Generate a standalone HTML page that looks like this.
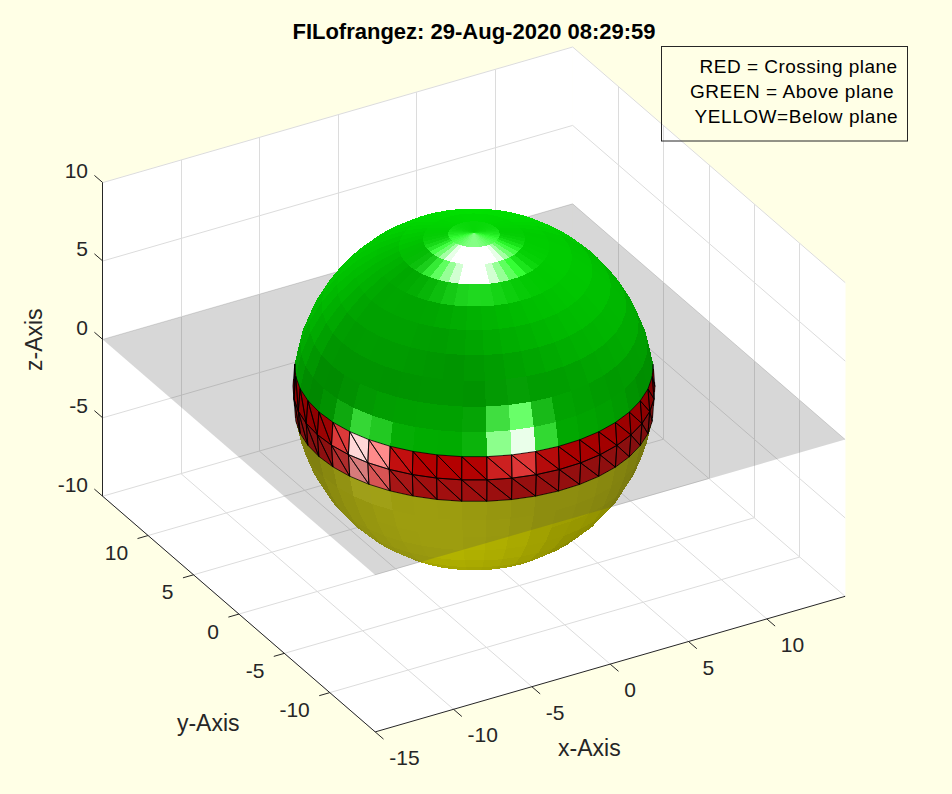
<!DOCTYPE html>
<html><head><meta charset="utf-8"><style>
html,body{margin:0;padding:0;background:rgb(255,255,230);}
svg{display:block;}
text{font-family:"Liberation Sans", sans-serif;}
</style></head><body>
<svg width="952" height="794" viewBox="0 0 952 794">
<rect x="0" y="0" width="952" height="794" fill="rgb(255,255,230)"/>
<polygon points="375.21,731.90 845.15,596.32 572.59,360.65 102.65,496.24" fill="#ffffff" stroke="#ffffff" stroke-width="0.5"/>
<polygon points="102.65,496.24 572.59,360.65 572.69,47.01 102.75,182.60" fill="#ffffff" stroke="#ffffff" stroke-width="0.5"/>
<polygon points="845.15,596.32 572.59,360.65 572.69,47.01 845.25,282.68" fill="#ffffff" stroke="#ffffff" stroke-width="0.5"/>
<line x1="375.21" y1="731.90" x2="102.65" y2="496.24" stroke="#dcdcdc" stroke-width="1.0" />
<line x1="102.50" y1="496.24" x2="102.50" y2="182.60" stroke="#dcdcdc" stroke-width="1.0" />
<line x1="453.54" y1="709.31" x2="180.98" y2="473.64" stroke="#dcdcdc" stroke-width="1.0" />
<line x1="181.50" y1="473.64" x2="181.50" y2="160.00" stroke="#dcdcdc" stroke-width="1.0" />
<line x1="531.86" y1="686.71" x2="259.30" y2="451.05" stroke="#dcdcdc" stroke-width="1.0" />
<line x1="259.50" y1="451.05" x2="259.50" y2="137.41" stroke="#dcdcdc" stroke-width="1.0" />
<line x1="610.18" y1="664.11" x2="337.62" y2="428.45" stroke="#dcdcdc" stroke-width="1.0" />
<line x1="338.50" y1="428.45" x2="338.50" y2="114.81" stroke="#dcdcdc" stroke-width="1.0" />
<line x1="688.50" y1="641.51" x2="415.94" y2="405.85" stroke="#dcdcdc" stroke-width="1.0" />
<line x1="416.50" y1="405.85" x2="416.50" y2="92.21" stroke="#dcdcdc" stroke-width="1.0" />
<line x1="766.82" y1="618.92" x2="494.26" y2="383.25" stroke="#dcdcdc" stroke-width="1.0" />
<line x1="495.50" y1="383.25" x2="495.50" y2="69.61" stroke="#dcdcdc" stroke-width="1.0" />
<line x1="329.79" y1="692.63" x2="799.72" y2="557.04" stroke="#dcdcdc" stroke-width="1.0" />
<line x1="799.50" y1="557.04" x2="799.50" y2="243.40" stroke="#dcdcdc" stroke-width="1.0" />
<line x1="284.36" y1="653.35" x2="754.29" y2="517.76" stroke="#dcdcdc" stroke-width="1.0" />
<line x1="754.50" y1="517.76" x2="754.50" y2="204.12" stroke="#dcdcdc" stroke-width="1.0" />
<line x1="238.93" y1="614.07" x2="708.87" y2="478.49" stroke="#dcdcdc" stroke-width="1.0" />
<line x1="709.50" y1="478.49" x2="709.50" y2="164.85" stroke="#dcdcdc" stroke-width="1.0" />
<line x1="193.51" y1="574.80" x2="663.44" y2="439.21" stroke="#dcdcdc" stroke-width="1.0" />
<line x1="663.50" y1="439.21" x2="663.50" y2="125.57" stroke="#dcdcdc" stroke-width="1.0" />
<line x1="148.08" y1="535.52" x2="618.01" y2="399.93" stroke="#dcdcdc" stroke-width="1.0" />
<line x1="618.50" y1="399.93" x2="618.50" y2="86.29" stroke="#dcdcdc" stroke-width="1.0" />
<line x1="102.65" y1="496.24" x2="572.59" y2="360.65" stroke="#dcdcdc" stroke-width="1.0" />
<line x1="845.15" y1="596.32" x2="572.59" y2="360.65" stroke="#dcdcdc" stroke-width="1.0" />
<line x1="102.68" y1="417.83" x2="572.61" y2="282.25" stroke="#dcdcdc" stroke-width="1.0" />
<line x1="845.17" y1="517.91" x2="572.61" y2="282.25" stroke="#dcdcdc" stroke-width="1.0" />
<line x1="102.70" y1="339.42" x2="572.64" y2="203.83" stroke="#dcdcdc" stroke-width="1.0" />
<line x1="845.20" y1="439.50" x2="572.64" y2="203.83" stroke="#dcdcdc" stroke-width="1.0" />
<line x1="102.73" y1="261.01" x2="572.66" y2="125.42" stroke="#dcdcdc" stroke-width="1.0" />
<line x1="845.22" y1="361.09" x2="572.66" y2="125.42" stroke="#dcdcdc" stroke-width="1.0" />
<line x1="102.75" y1="182.60" x2="572.69" y2="47.01" stroke="#dcdcdc" stroke-width="1.0" />
<line x1="845.25" y1="282.68" x2="572.69" y2="47.01" stroke="#dcdcdc" stroke-width="1.0" />
<line x1="102.50" y1="496.24" x2="102.50" y2="182.60" stroke="#262626" stroke-width="1.0" />
<line x1="375.21" y1="731.90" x2="102.65" y2="496.24" stroke="#262626" stroke-width="1.0" />
<line x1="375.21" y1="731.90" x2="845.15" y2="596.32" stroke="#262626" stroke-width="1.0" />
<line x1="102.65" y1="496.24" x2="94.33" y2="489.05" stroke="#262626" stroke-width="1.0" />
<line x1="102.68" y1="417.83" x2="94.36" y2="410.64" stroke="#262626" stroke-width="1.0" />
<line x1="102.70" y1="339.42" x2="94.38" y2="332.23" stroke="#262626" stroke-width="1.0" />
<line x1="102.73" y1="261.01" x2="94.41" y2="253.82" stroke="#262626" stroke-width="1.0" />
<line x1="102.75" y1="182.60" x2="94.43" y2="175.41" stroke="#262626" stroke-width="1.0" />
<line x1="329.79" y1="692.63" x2="319.22" y2="695.68" stroke="#262626" stroke-width="1.0" />
<line x1="284.36" y1="653.35" x2="273.79" y2="656.40" stroke="#262626" stroke-width="1.0" />
<line x1="238.93" y1="614.07" x2="228.37" y2="617.12" stroke="#262626" stroke-width="1.0" />
<line x1="193.51" y1="574.80" x2="182.94" y2="577.84" stroke="#262626" stroke-width="1.0" />
<line x1="148.08" y1="535.52" x2="137.51" y2="538.57" stroke="#262626" stroke-width="1.0" />
<line x1="375.21" y1="731.90" x2="383.53" y2="739.10" stroke="#262626" stroke-width="1.0" />
<line x1="453.54" y1="709.31" x2="461.86" y2="716.50" stroke="#262626" stroke-width="1.0" />
<line x1="531.86" y1="686.71" x2="540.18" y2="693.90" stroke="#262626" stroke-width="1.0" />
<line x1="610.18" y1="664.11" x2="618.50" y2="671.31" stroke="#262626" stroke-width="1.0" />
<line x1="688.50" y1="641.51" x2="696.82" y2="648.71" stroke="#262626" stroke-width="1.0" />
<line x1="766.82" y1="618.92" x2="775.14" y2="626.11" stroke="#262626" stroke-width="1.0" />
<polygon points="416.52,560.98 428.12,564.61 418.45,560.34 404.40,555.94" fill="rgb(162,162,0)" shape-rendering="crispEdges"/>
<polygon points="428.12,564.61 440.61,567.40 433.57,563.72 418.45,560.34" fill="rgb(165,165,0)" shape-rendering="crispEdges"/>
<polygon points="440.61,567.40 453.74,569.30 449.49,566.01 433.57,563.72" fill="rgb(165,165,0)" shape-rendering="crispEdges"/>
<polygon points="453.74,569.30 467.27,570.26 465.87,567.17 449.49,566.01" fill="rgb(165,165,0)" shape-rendering="crispEdges"/>
<polygon points="467.27,570.26 480.93,570.27 482.42,567.19 465.87,567.17" fill="rgb(163,163,0)" shape-rendering="crispEdges"/>
<polygon points="480.93,570.27 494.45,569.33 498.80,566.05 482.42,567.19" fill="rgb(161,161,0)" shape-rendering="crispEdges"/>
<polygon points="494.45,569.33 507.57,567.45 514.69,563.78 498.80,566.05" fill="rgb(157,157,0)" shape-rendering="crispEdges"/>
<polygon points="507.57,567.45 520.04,564.68 529.79,560.42 514.69,563.78" fill="rgb(152,152,0)" shape-rendering="crispEdges"/>
<polygon points="520.04,564.68 531.61,561.07 543.80,556.04 529.79,560.42" fill="rgb(146,146,0)" shape-rendering="crispEdges"/>
<polygon points="380.61,544.44 391.71,550.61 379.05,541.35 366.24,534.24" fill="rgb(161,161,0)" shape-rendering="crispEdges"/>
<polygon points="391.71,550.61 404.40,555.94 393.70,547.51 379.05,541.35" fill="rgb(166,166,0)" shape-rendering="crispEdges"/>
<polygon points="404.40,555.94 418.45,560.34 409.91,552.58 393.70,547.51" fill="rgb(169,169,0)" shape-rendering="crispEdges"/>
<polygon points="418.45,560.34 433.57,563.72 427.37,556.48 409.91,552.58" fill="rgb(172,172,0)" shape-rendering="crispEdges"/>
<polygon points="433.57,563.72 449.49,566.01 445.73,559.13 427.37,556.48" fill="rgb(173,173,0)" shape-rendering="crispEdges"/>
<polygon points="449.49,566.01 465.87,567.17 464.64,560.47 445.73,559.13" fill="rgb(172,172,0)" shape-rendering="crispEdges"/>
<polygon points="465.87,567.17 482.42,567.19 483.73,560.49 464.64,560.47" fill="rgb(170,170,0)" shape-rendering="crispEdges"/>
<polygon points="482.42,567.19 498.80,566.05 502.64,559.17 483.73,560.49" fill="rgb(167,167,0)" shape-rendering="crispEdges"/>
<polygon points="498.80,566.05 514.69,563.78 520.98,556.55 502.64,559.17" fill="rgb(163,163,0)" shape-rendering="crispEdges"/>
<polygon points="514.69,563.78 529.79,560.42 538.41,552.68 520.98,556.55" fill="rgb(157,157,0)" shape-rendering="crispEdges"/>
<polygon points="529.79,560.42 543.80,556.04 554.58,547.63 538.41,552.68" fill="rgb(150,150,0)" shape-rendering="crispEdges"/>
<polygon points="543.80,556.04 556.46,550.73 569.18,541.50 554.58,547.63" fill="rgb(142,142,0)" shape-rendering="crispEdges"/>
<polygon points="556.46,550.73 567.50,544.59 581.93,534.41 569.18,541.50" fill="rgb(135,135,0)" shape-rendering="crispEdges"/>
<polygon points="355.53,526.31 366.24,534.24 354.07,521.09 342.15,512.26" fill="rgb(157,157,0)" shape-rendering="crispEdges"/>
<polygon points="366.24,534.24 379.05,541.35 368.32,529.01 354.07,521.09" fill="rgb(164,164,0)" shape-rendering="crispEdges"/>
<polygon points="379.05,541.35 393.70,547.51 384.63,535.86 368.32,529.01" fill="rgb(170,170,0)" shape-rendering="crispEdges"/>
<polygon points="393.70,547.51 409.91,552.58 402.67,541.51 384.63,535.86" fill="rgb(174,174,0)" shape-rendering="crispEdges"/>
<polygon points="409.91,552.58 427.37,556.48 422.10,545.85 402.67,541.51" fill="rgb(177,177,0)" shape-rendering="crispEdges"/>
<polygon points="427.37,556.48 445.73,559.13 442.55,548.79 422.10,545.85" fill="rgb(178,178,0)" shape-rendering="crispEdges"/>
<polygon points="445.73,559.13 464.64,560.47 463.60,550.29 442.55,548.79" fill="rgb(178,178,0)" shape-rendering="crispEdges"/>
<polygon points="464.64,560.47 483.73,560.49 484.85,550.31 463.60,550.29" fill="rgb(175,175,0)" shape-rendering="crispEdges"/>
<polygon points="483.73,560.49 502.64,559.17 505.89,548.84 484.85,550.31" fill="rgb(172,172,0)" shape-rendering="crispEdges"/>
<polygon points="502.64,559.17 520.98,556.55 526.31,545.93 505.89,548.84" fill="rgb(167,167,0)" shape-rendering="crispEdges"/>
<polygon points="520.98,556.55 538.41,552.68 545.71,541.61 526.31,545.93" fill="rgb(160,160,0)" shape-rendering="crispEdges"/>
<polygon points="538.41,552.68 554.58,547.63 563.71,535.99 545.71,541.61" fill="rgb(152,152,0)" shape-rendering="crispEdges"/>
<polygon points="554.58,547.63 569.18,541.50 579.96,529.17 563.71,535.99" fill="rgb(145,145,0)" shape-rendering="crispEdges"/>
<polygon points="569.18,541.50 581.93,534.41 594.15,521.27 579.96,529.17" fill="rgb(142,142,0)" shape-rendering="crispEdges"/>
<polygon points="581.93,534.41 592.57,526.49 606.00,512.46 594.15,521.27" fill="rgb(138,138,0)" shape-rendering="crispEdges"/>
<polygon points="592.57,526.49 600.91,517.91 615.28,502.91 606.00,512.46" fill="rgb(132,132,0)" shape-rendering="crispEdges"/>
<polygon points="347.13,517.72 355.53,526.31 342.15,512.26 332.79,502.70" fill="rgb(149,149,0)" shape-rendering="crispEdges"/>
<polygon points="342.15,512.26 354.07,521.09 344.33,505.26 331.44,495.72" fill="rgb(158,158,0)" shape-rendering="crispEdges"/>
<polygon points="354.07,521.09 368.32,529.01 359.74,513.82 344.33,505.26" fill="rgb(166,166,0)" shape-rendering="crispEdges"/>
<polygon points="368.32,529.01 384.63,535.86 377.37,521.23 359.74,513.82" fill="rgb(172,172,0)" shape-rendering="crispEdges"/>
<polygon points="384.63,535.86 402.67,541.51 396.89,527.34 377.37,521.23" fill="rgb(177,177,0)" shape-rendering="crispEdges"/>
<polygon points="402.67,541.51 422.10,545.85 417.90,532.03 396.89,527.34" fill="rgb(180,180,0)" shape-rendering="crispEdges"/>
<polygon points="422.10,545.85 442.55,548.79 440.00,535.22 417.90,532.03" fill="rgb(181,181,0)" shape-rendering="crispEdges"/>
<polygon points="442.55,548.79 463.60,550.29 462.76,536.83 440.00,535.22" fill="rgb(181,181,0)" shape-rendering="crispEdges"/>
<polygon points="463.60,550.29 484.85,550.31 485.75,536.85 462.76,536.83" fill="rgb(178,178,0)" shape-rendering="crispEdges"/>
<polygon points="484.85,550.31 505.89,548.84 508.50,535.27 485.75,536.85" fill="rgb(174,174,0)" shape-rendering="crispEdges"/>
<polygon points="505.89,548.84 526.31,545.93 530.57,532.11 508.50,535.27" fill="rgb(169,169,0)" shape-rendering="crispEdges"/>
<polygon points="526.31,545.93 545.71,541.61 551.55,527.45 530.57,532.11" fill="rgb(161,161,0)" shape-rendering="crispEdges"/>
<polygon points="545.71,541.61 563.71,535.99 571.01,521.37 551.55,527.45" fill="rgb(153,153,0)" shape-rendering="crispEdges"/>
<polygon points="563.71,535.99 579.96,529.17 588.59,513.99 571.01,521.37" fill="rgb(151,151,0)" shape-rendering="crispEdges"/>
<polygon points="579.96,529.17 594.15,521.27 603.93,505.46 588.59,513.99" fill="rgb(148,148,0)" shape-rendering="crispEdges"/>
<polygon points="594.15,521.27 606.00,512.46 616.74,495.93 603.93,505.46" fill="rgb(143,143,0)" shape-rendering="crispEdges"/>
<polygon points="606.00,512.46 615.28,502.91 626.78,485.60 616.74,495.93" fill="rgb(137,137,0)" shape-rendering="crispEdges"/>
<polygon points="332.79,502.70 342.15,512.26 331.44,495.72 321.33,485.37" fill="rgb(149,149,0)" shape-rendering="crispEdges"/>
<polygon points="331.44,495.72 344.33,505.26 337.23,487.07 323.64,477.01" fill="rgb(158,158,0)" shape-rendering="crispEdges"/>
<polygon points="344.33,505.26 359.74,513.82 353.49,496.10 337.23,487.07" fill="rgb(166,166,0)" shape-rendering="crispEdges"/>
<polygon points="359.74,513.82 377.37,521.23 372.09,503.91 353.49,496.10" fill="rgb(173,173,0)" shape-rendering="crispEdges"/>
<polygon points="377.37,521.23 396.89,527.34 392.67,510.36 372.09,503.91" fill="rgb(178,178,0)" shape-rendering="crispEdges"/>
<polygon points="396.89,527.34 417.90,532.03 414.83,515.31 392.67,510.36" fill="rgb(181,181,0)" shape-rendering="crispEdges"/>
<polygon points="417.90,532.03 440.00,535.22 438.15,518.67 414.83,515.31" fill="rgb(182,182,0)" shape-rendering="crispEdges"/>
<polygon points="440.00,535.22 462.76,536.83 462.16,520.38 438.15,518.67" fill="rgb(182,182,0)" shape-rendering="crispEdges"/>
<polygon points="462.76,536.83 485.75,536.85 486.40,520.40 462.16,520.38" fill="rgb(179,179,0)" shape-rendering="crispEdges"/>
<polygon points="485.75,536.85 508.50,535.27 510.40,518.73 486.40,520.40" fill="rgb(175,175,0)" shape-rendering="crispEdges"/>
<polygon points="508.50,535.27 530.57,532.11 533.69,515.40 510.40,518.73" fill="rgb(169,169,0)" shape-rendering="crispEdges"/>
<polygon points="530.57,532.11 551.55,527.45 555.81,510.48 533.69,515.40" fill="rgb(161,161,0)" shape-rendering="crispEdges"/>
<polygon points="551.55,527.45 571.01,521.37 576.34,504.07 555.81,510.48" fill="rgb(158,158,0)" shape-rendering="crispEdges"/>
<polygon points="571.01,521.37 588.59,513.99 594.88,496.28 576.34,504.07" fill="rgb(156,156,0)" shape-rendering="crispEdges"/>
<polygon points="588.59,513.99 603.93,505.46 611.06,487.28 594.88,496.28" fill="rgb(152,152,0)" shape-rendering="crispEdges"/>
<polygon points="603.93,505.46 616.74,495.93 624.58,477.23 611.06,487.28" fill="rgb(147,147,0)" shape-rendering="crispEdges"/>
<polygon points="616.74,495.93 626.78,485.60 635.16,466.34 624.58,477.23" fill="rgb(140,140,0)" shape-rendering="crispEdges"/>
<polygon points="626.78,485.60 633.84,474.67 642.61,454.81 635.16,466.34" fill="rgb(132,132,0)" shape-rendering="crispEdges"/>
<polygon points="314.18,474.43 321.33,485.37 312.97,466.09 305.43,454.55" fill="rgb(147,147,0)" shape-rendering="crispEdges"/>
<polygon points="321.33,485.37 331.44,495.72 323.64,477.01 312.97,466.09" fill="rgb(148,148,0)" shape-rendering="crispEdges"/>
<polygon points="323.64,477.01 337.23,487.07 332.92,466.90 318.89,456.51" fill="rgb(155,155,0)" shape-rendering="crispEdges"/>
<polygon points="337.23,487.07 353.49,496.10 349.69,476.21 332.92,466.90" fill="rgb(167,167,4)" shape-rendering="crispEdges"/>
<polygon points="353.49,496.10 372.09,503.91 368.88,484.27 349.69,476.21" fill="rgb(184,184,13)" shape-rendering="crispEdges"/>
<polygon points="372.09,503.91 392.67,510.36 390.11,490.92 368.88,484.27" fill="rgb(185,185,9)" shape-rendering="crispEdges"/>
<polygon points="392.67,510.36 414.83,515.31 412.97,496.03 390.11,490.92" fill="rgb(180,180,1)" shape-rendering="crispEdges"/>
<polygon points="414.83,515.31 438.15,518.67 437.02,499.49 412.97,496.03" fill="rgb(181,181,0)" shape-rendering="crispEdges"/>
<polygon points="438.15,518.67 462.16,520.38 461.79,501.26 437.02,499.49" fill="rgb(180,180,0)" shape-rendering="crispEdges"/>
<polygon points="462.16,520.38 486.40,520.40 486.80,501.27 461.79,501.26" fill="rgb(177,177,0)" shape-rendering="crispEdges"/>
<polygon points="486.40,520.40 510.40,518.73 511.56,499.55 486.80,501.27" fill="rgb(173,173,0)" shape-rendering="crispEdges"/>
<polygon points="510.40,518.73 533.69,515.40 535.58,496.12 511.56,499.55" fill="rgb(167,167,0)" shape-rendering="crispEdges"/>
<polygon points="533.69,515.40 555.81,510.48 558.41,491.05 535.58,496.12" fill="rgb(161,161,0)" shape-rendering="crispEdges"/>
<polygon points="555.81,510.48 576.34,504.07 579.59,484.43 558.41,491.05" fill="rgb(161,161,0)" shape-rendering="crispEdges"/>
<polygon points="576.34,504.07 594.88,496.28 598.71,476.40 579.59,484.43" fill="rgb(159,159,0)" shape-rendering="crispEdges"/>
<polygon points="594.88,496.28 611.06,487.28 615.41,467.11 598.71,476.40" fill="rgb(155,155,0)" shape-rendering="crispEdges"/>
<polygon points="611.06,487.28 624.58,477.23 629.35,456.75 615.41,467.11" fill="rgb(149,149,0)" shape-rendering="crispEdges"/>
<polygon points="624.58,477.23 635.16,466.34 640.27,445.51 629.35,456.75" fill="rgb(142,142,0)" shape-rendering="crispEdges"/>
<polygon points="635.16,466.34 642.61,454.81 647.95,433.61 640.27,445.51" fill="rgb(134,134,0)" shape-rendering="crispEdges"/>
<polygon points="642.61,454.81 646.77,442.86 652.24,421.29 647.95,433.61" fill="rgb(125,125,0)" shape-rendering="crispEdges"/>
<polygon points="301.17,442.60 305.43,454.55 300.11,433.35 295.72,421.02" fill="rgb(145,145,0)" shape-rendering="crispEdges"/>
<polygon points="305.43,454.55 312.97,466.09 307.89,445.26 300.11,433.35" fill="rgb(145,145,0)" shape-rendering="crispEdges"/>
<polygon points="312.97,466.09 323.64,477.01 318.89,456.51 307.89,445.26" fill="rgb(145,145,0)" shape-rendering="crispEdges"/>
<polygon points="332.92,466.90 331.47,445.15 317.31,434.65" fill="rgb(160,2,2)" shape-rendering="crispEdges"/>
<polygon points="318.89,456.51 332.92,466.90 317.31,434.65" fill="rgb(160,2,2)" shape-rendering="crispEdges"/>
<polygon points="349.69,476.21 348.42,454.56 331.47,445.15" fill="rgb(205,37,37)" shape-rendering="crispEdges"/>
<polygon points="332.92,466.90 349.69,476.21 331.47,445.15" fill="rgb(205,37,37)" shape-rendering="crispEdges"/>
<polygon points="368.88,484.27 367.80,462.70 348.42,454.56" fill="rgb(255,138,138)" shape-rendering="crispEdges"/>
<polygon points="349.69,476.21 368.88,484.27 348.42,454.56" fill="rgb(255,138,138)" shape-rendering="crispEdges"/>
<polygon points="390.11,490.92 389.25,469.42 367.80,462.70" fill="rgb(255,89,89)" shape-rendering="crispEdges"/>
<polygon points="368.88,484.27 390.11,490.92 367.80,462.70" fill="rgb(255,89,89)" shape-rendering="crispEdges"/>
<polygon points="412.97,496.03 412.35,474.58 389.25,469.42" fill="rgb(194,10,10)" shape-rendering="crispEdges"/>
<polygon points="390.11,490.92 412.97,496.03 389.25,469.42" fill="rgb(194,10,10)" shape-rendering="crispEdges"/>
<polygon points="437.02,499.49 436.65,478.08 412.35,474.58" fill="rgb(186,0,0)" shape-rendering="crispEdges"/>
<polygon points="412.97,496.03 437.02,499.49 412.35,474.58" fill="rgb(186,0,0)" shape-rendering="crispEdges"/>
<polygon points="461.79,501.26 461.68,479.86 436.65,478.08" fill="rgb(186,0,0)" shape-rendering="crispEdges"/>
<polygon points="437.02,499.49 461.79,501.26 436.65,478.08" fill="rgb(186,0,0)" shape-rendering="crispEdges"/>
<polygon points="486.80,501.27 486.94,479.88 461.68,479.86" fill="rgb(183,0,0)" shape-rendering="crispEdges"/>
<polygon points="461.79,501.26 486.80,501.27 461.68,479.86" fill="rgb(183,0,0)" shape-rendering="crispEdges"/>
<polygon points="511.56,499.55 511.95,478.14 486.94,479.88" fill="rgb(179,1,1)" shape-rendering="crispEdges"/>
<polygon points="486.80,501.27 511.56,499.55 486.94,479.88" fill="rgb(179,1,1)" shape-rendering="crispEdges"/>
<polygon points="535.58,496.12 536.22,474.67 511.95,478.14" fill="rgb(172,1,1)" shape-rendering="crispEdges"/>
<polygon points="511.56,499.55 535.58,496.12 511.95,478.14" fill="rgb(172,1,1)" shape-rendering="crispEdges"/>
<polygon points="558.41,491.05 559.28,469.54 536.22,474.67" fill="rgb(171,0,0)" shape-rendering="crispEdges"/>
<polygon points="535.58,496.12 558.41,491.05 536.22,474.67" fill="rgb(171,0,0)" shape-rendering="crispEdges"/>
<polygon points="579.59,484.43 580.68,462.86 559.28,469.54" fill="rgb(170,0,0)" shape-rendering="crispEdges"/>
<polygon points="558.41,491.05 579.59,484.43 559.28,469.54" fill="rgb(170,0,0)" shape-rendering="crispEdges"/>
<polygon points="598.71,476.40 600.00,454.75 580.68,462.86" fill="rgb(168,0,0)" shape-rendering="crispEdges"/>
<polygon points="579.59,484.43 598.71,476.40 580.68,462.86" fill="rgb(168,0,0)" shape-rendering="crispEdges"/>
<polygon points="615.41,467.11 616.87,445.36 600.00,454.75" fill="rgb(164,0,0)" shape-rendering="crispEdges"/>
<polygon points="598.71,476.40 615.41,467.11 600.00,454.75" fill="rgb(164,0,0)" shape-rendering="crispEdges"/>
<polygon points="629.35,456.75 630.95,434.89 616.87,445.36" fill="rgb(158,0,0)" shape-rendering="crispEdges"/>
<polygon points="615.41,467.11 629.35,456.75 616.87,445.36" fill="rgb(158,0,0)" shape-rendering="crispEdges"/>
<polygon points="640.27,445.51 641.98,423.54 630.95,434.89" fill="rgb(151,0,0)" shape-rendering="crispEdges"/>
<polygon points="629.35,456.75 640.27,445.51 630.95,434.89" fill="rgb(151,0,0)" shape-rendering="crispEdges"/>
<polygon points="647.95,433.61 649.74,411.52 641.98,423.54" fill="rgb(142,0,0)" shape-rendering="crispEdges"/>
<polygon points="640.27,445.51 647.95,433.61 641.98,423.54" fill="rgb(142,0,0)" shape-rendering="crispEdges"/>
<polygon points="652.24,421.29 654.08,399.07 649.74,411.52" fill="rgb(131,0,0)" shape-rendering="crispEdges"/>
<polygon points="647.95,433.61 652.24,421.29 649.74,411.52" fill="rgb(131,0,0)" shape-rendering="crispEdges"/>
<polygon points="300.11,433.35 298.33,411.25 293.90,398.80" fill="rgb(149,0,0)" shape-rendering="crispEdges"/>
<polygon points="295.72,421.02 300.11,433.35 293.90,398.80" fill="rgb(149,0,0)" shape-rendering="crispEdges"/>
<polygon points="307.89,445.26 306.19,423.28 298.33,411.25" fill="rgb(149,0,0)" shape-rendering="crispEdges"/>
<polygon points="300.11,433.35 307.89,445.26 298.33,411.25" fill="rgb(149,0,0)" shape-rendering="crispEdges"/>
<polygon points="318.89,456.51 317.31,434.65 306.19,423.28" fill="rgb(148,0,0)" shape-rendering="crispEdges"/>
<polygon points="307.89,445.26 318.89,456.51 306.19,423.28" fill="rgb(148,0,0)" shape-rendering="crispEdges"/>
<polygon points="375.26,575.09 845.20,439.50 572.64,203.83 102.70,339.42" fill="rgb(70,70,70)" fill-opacity="0.216"/>
<polygon points="331.47,445.15 332.93,422.26 318.91,411.88" fill="rgb(155,3,3)" shape-rendering="crispEdges"/>
<polygon points="317.31,434.65 331.47,445.15 318.91,411.88" fill="rgb(155,3,3)" shape-rendering="crispEdges"/>
<polygon points="348.42,454.56 349.70,431.58 332.93,422.26" fill="rgb(220,58,58)" shape-rendering="crispEdges"/>
<polygon points="331.47,445.15 348.42,454.56 332.93,422.26" fill="rgb(220,58,58)" shape-rendering="crispEdges"/>
<polygon points="367.80,462.70 368.89,439.64 349.70,431.58" fill="rgb(255,216,216)" shape-rendering="crispEdges"/>
<polygon points="348.42,454.56 367.80,462.70 349.70,431.58" fill="rgb(255,216,216)" shape-rendering="crispEdges"/>
<polygon points="389.25,469.42 390.12,446.28 368.89,439.64" fill="rgb(255,139,139)" shape-rendering="crispEdges"/>
<polygon points="367.80,462.70 389.25,469.42 368.89,439.64" fill="rgb(255,139,139)" shape-rendering="crispEdges"/>
<polygon points="412.35,474.58 412.99,451.39 390.12,446.28" fill="rgb(194,15,15)" shape-rendering="crispEdges"/>
<polygon points="389.25,469.42 412.35,474.58 390.12,446.28" fill="rgb(194,15,15)" shape-rendering="crispEdges"/>
<polygon points="436.65,478.08 437.04,454.86 412.99,451.39" fill="rgb(180,0,0)" shape-rendering="crispEdges"/>
<polygon points="412.35,474.58 436.65,478.08 412.99,451.39" fill="rgb(180,0,0)" shape-rendering="crispEdges"/>
<polygon points="461.68,479.86 461.81,456.62 437.04,454.86" fill="rgb(180,0,0)" shape-rendering="crispEdges"/>
<polygon points="436.65,478.08 461.68,479.86 437.04,454.86" fill="rgb(180,0,0)" shape-rendering="crispEdges"/>
<polygon points="486.94,479.88 486.81,456.64 461.81,456.62" fill="rgb(179,2,2)" shape-rendering="crispEdges"/>
<polygon points="461.68,479.86 486.94,479.88 461.81,456.62" fill="rgb(179,2,2)" shape-rendering="crispEdges"/>
<polygon points="511.95,478.14 511.57,454.92 486.81,456.64" fill="rgb(204,32,32)" shape-rendering="crispEdges"/>
<polygon points="486.94,479.88 511.95,478.14 486.81,456.64" fill="rgb(204,32,32)" shape-rendering="crispEdges"/>
<polygon points="536.22,474.67 535.60,451.48 511.57,454.92" fill="rgb(222,54,54)" shape-rendering="crispEdges"/>
<polygon points="511.95,478.14 536.22,474.67 511.57,454.92" fill="rgb(222,54,54)" shape-rendering="crispEdges"/>
<polygon points="559.28,469.54 558.42,446.41 535.60,451.48" fill="rgb(181,11,11)" shape-rendering="crispEdges"/>
<polygon points="536.22,474.67 559.28,469.54 535.60,451.48" fill="rgb(181,11,11)" shape-rendering="crispEdges"/>
<polygon points="580.68,462.86 579.60,439.80 558.42,446.41" fill="rgb(170,0,0)" shape-rendering="crispEdges"/>
<polygon points="559.28,469.54 580.68,462.86 558.42,446.41" fill="rgb(170,0,0)" shape-rendering="crispEdges"/>
<polygon points="600.00,454.75 598.72,431.77 579.60,439.80" fill="rgb(167,0,0)" shape-rendering="crispEdges"/>
<polygon points="580.68,462.86 600.00,454.75 579.60,439.80" fill="rgb(167,0,0)" shape-rendering="crispEdges"/>
<polygon points="616.87,445.36 615.42,422.48 598.72,431.77" fill="rgb(163,0,0)" shape-rendering="crispEdges"/>
<polygon points="600.00,454.75 616.87,445.36 598.72,431.77" fill="rgb(163,0,0)" shape-rendering="crispEdges"/>
<polygon points="630.95,434.89 629.36,412.11 615.42,422.48" fill="rgb(157,0,0)" shape-rendering="crispEdges"/>
<polygon points="616.87,445.36 630.95,434.89 615.42,422.48" fill="rgb(157,0,0)" shape-rendering="crispEdges"/>
<polygon points="641.98,423.54 640.28,400.87 629.36,412.11" fill="rgb(150,0,0)" shape-rendering="crispEdges"/>
<polygon points="630.95,434.89 641.98,423.54 629.36,412.11" fill="rgb(150,0,0)" shape-rendering="crispEdges"/>
<polygon points="649.74,411.52 647.96,388.98 640.28,400.87" fill="rgb(141,0,0)" shape-rendering="crispEdges"/>
<polygon points="641.98,423.54 649.74,411.52 640.28,400.87" fill="rgb(141,0,0)" shape-rendering="crispEdges"/>
<polygon points="654.08,399.07 652.25,376.65 647.96,388.98" fill="rgb(130,0,0)" shape-rendering="crispEdges"/>
<polygon points="649.74,411.52 654.08,399.07 647.96,388.98" fill="rgb(130,0,0)" shape-rendering="crispEdges"/>
<polygon points="654.91,386.43 653.08,364.15 652.25,376.65" fill="rgb(126,0,0)" shape-rendering="crispEdges"/>
<polygon points="654.08,399.07 654.91,386.43 652.25,376.65" fill="rgb(126,0,0)" shape-rendering="crispEdges"/>
<polygon points="293.90,398.80 295.74,376.38 294.81,363.88" fill="rgb(148,0,0)" shape-rendering="crispEdges"/>
<polygon points="292.96,386.16 293.90,398.80 294.81,363.88" fill="rgb(148,0,0)" shape-rendering="crispEdges"/>
<polygon points="298.33,411.25 300.13,388.71 295.74,376.38" fill="rgb(144,0,0)" shape-rendering="crispEdges"/>
<polygon points="293.90,398.80 298.33,411.25 295.74,376.38" fill="rgb(144,0,0)" shape-rendering="crispEdges"/>
<polygon points="306.19,423.28 307.90,400.62 300.13,388.71" fill="rgb(144,0,0)" shape-rendering="crispEdges"/>
<polygon points="298.33,411.25 306.19,423.28 300.13,388.71" fill="rgb(144,0,0)" shape-rendering="crispEdges"/>
<polygon points="317.31,434.65 318.91,411.88 307.90,400.62" fill="rgb(143,0,0)" shape-rendering="crispEdges"/>
<polygon points="306.19,423.28 317.31,434.65 307.90,400.62" fill="rgb(143,0,0)" shape-rendering="crispEdges"/>
<polygon points="318.91,411.88 332.93,422.26 337.26,398.71 323.67,388.64" fill="rgb(1,146,1)" shape-rendering="crispEdges"/>
<polygon points="332.93,422.26 349.70,431.58 353.52,407.74 337.26,398.71" fill="rgb(14,168,14)" shape-rendering="crispEdges"/>
<polygon points="349.70,431.58 368.89,439.64 372.12,415.55 353.52,407.74" fill="rgb(53,215,53)" shape-rendering="crispEdges"/>
<polygon points="368.89,439.64 390.12,446.28 392.70,422.00 372.12,415.55" fill="rgb(34,201,34)" shape-rendering="crispEdges"/>
<polygon points="390.12,446.28 412.99,451.39 414.86,426.95 392.70,422.00" fill="rgb(4,174,4)" shape-rendering="crispEdges"/>
<polygon points="412.99,451.39 437.04,454.86 438.18,430.31 414.86,426.95" fill="rgb(0,172,0)" shape-rendering="crispEdges"/>
<polygon points="437.04,454.86 461.81,456.62 462.19,432.01 438.18,430.31" fill="rgb(0,171,0)" shape-rendering="crispEdges"/>
<polygon points="461.81,456.62 486.81,456.64 486.43,432.03 462.19,432.01" fill="rgb(11,179,11)" shape-rendering="crispEdges"/>
<polygon points="486.81,456.64 511.57,454.92 510.43,430.36 486.43,432.03" fill="rgb(140,255,140)" shape-rendering="crispEdges"/>
<polygon points="511.57,454.92 535.60,451.48 533.71,427.04 510.43,430.36" fill="rgb(234,255,234)" shape-rendering="crispEdges"/>
<polygon points="535.60,451.48 558.42,446.41 555.84,422.12 533.71,427.04" fill="rgb(50,217,50)" shape-rendering="crispEdges"/>
<polygon points="558.42,446.41 579.60,439.80 576.37,415.71 555.84,422.12" fill="rgb(1,168,1)" shape-rendering="crispEdges"/>
<polygon points="579.60,439.80 598.72,431.77 594.91,407.92 576.37,415.71" fill="rgb(0,164,0)" shape-rendering="crispEdges"/>
<polygon points="598.72,431.77 615.42,422.48 611.09,398.92 594.91,407.92" fill="rgb(0,160,0)" shape-rendering="crispEdges"/>
<polygon points="615.42,422.48 629.36,412.11 624.61,388.87 611.09,398.92" fill="rgb(0,155,0)" shape-rendering="crispEdges"/>
<polygon points="629.36,412.11 640.28,400.87 635.19,377.98 624.61,388.87" fill="rgb(0,147,0)" shape-rendering="crispEdges"/>
<polygon points="640.28,400.87 647.96,388.98 642.64,366.44 635.19,377.98" fill="rgb(0,142,0)" shape-rendering="crispEdges"/>
<polygon points="647.96,388.98 652.25,376.65 646.80,354.50 642.64,366.44" fill="rgb(0,143,0)" shape-rendering="crispEdges"/>
<polygon points="652.25,376.65 653.08,364.15 647.60,342.38 646.80,354.50" fill="rgb(0,142,0)" shape-rendering="crispEdges"/>
<polygon points="653.08,364.15 650.41,351.70 645.01,330.31 647.60,342.38" fill="rgb(0,141,0)" shape-rendering="crispEdges"/>
<polygon points="297.38,351.43 294.81,363.88 300.31,342.11 302.79,330.05" fill="rgb(0,168,0)" shape-rendering="crispEdges"/>
<polygon points="294.81,363.88 295.74,376.38 301.20,354.24 300.31,342.11" fill="rgb(0,160,0)" shape-rendering="crispEdges"/>
<polygon points="295.74,376.38 300.13,388.71 305.46,366.19 301.20,354.24" fill="rgb(0,151,0)" shape-rendering="crispEdges"/>
<polygon points="300.13,388.71 307.90,400.62 313.00,377.73 305.46,366.19" fill="rgb(0,140,0)" shape-rendering="crispEdges"/>
<polygon points="307.90,400.62 318.91,411.88 323.67,388.64 313.00,377.73" fill="rgb(0,136,0)" shape-rendering="crispEdges"/>
<polygon points="323.67,388.64 337.26,398.71 344.37,374.97 331.48,365.43" fill="rgb(0,139,0)" shape-rendering="crispEdges"/>
<polygon points="337.26,398.71 353.52,407.74 359.78,383.53 344.37,374.97" fill="rgb(1,145,1)" shape-rendering="crispEdges"/>
<polygon points="353.52,407.74 372.12,415.55 377.41,390.94 359.78,383.53" fill="rgb(2,153,2)" shape-rendering="crispEdges"/>
<polygon points="372.12,415.55 392.70,422.00 396.93,397.04 377.41,390.94" fill="rgb(1,158,1)" shape-rendering="crispEdges"/>
<polygon points="392.70,422.00 414.86,426.95 417.94,401.74 396.93,397.04" fill="rgb(0,160,0)" shape-rendering="crispEdges"/>
<polygon points="414.86,426.95 438.18,430.31 440.04,404.93 417.94,401.74" fill="rgb(0,161,0)" shape-rendering="crispEdges"/>
<polygon points="438.18,430.31 462.19,432.01 462.81,406.54 440.04,404.93" fill="rgb(0,161,0)" shape-rendering="crispEdges"/>
<polygon points="462.19,432.01 486.43,432.03 485.79,406.56 462.81,406.54" fill="rgb(5,164,5)" shape-rendering="crispEdges"/>
<polygon points="486.43,432.03 510.43,430.36 508.54,404.98 485.79,406.56" fill="rgb(64,222,64)" shape-rendering="crispEdges"/>
<polygon points="510.43,430.36 533.71,427.04 530.62,401.82 508.54,404.98" fill="rgb(105,255,105)" shape-rendering="crispEdges"/>
<polygon points="533.71,427.04 555.84,422.12 551.59,397.16 530.62,401.82" fill="rgb(24,186,24)" shape-rendering="crispEdges"/>
<polygon points="555.84,422.12 576.37,415.71 571.05,391.08 551.59,397.16" fill="rgb(1,163,1)" shape-rendering="crispEdges"/>
<polygon points="576.37,415.71 594.91,407.92 588.63,383.70 571.05,391.08" fill="rgb(0,160,0)" shape-rendering="crispEdges"/>
<polygon points="594.91,407.92 611.09,398.92 603.97,375.17 588.63,383.70" fill="rgb(0,156,0)" shape-rendering="crispEdges"/>
<polygon points="611.09,398.92 624.61,388.87 616.79,365.64 603.97,375.17" fill="rgb(0,154,0)" shape-rendering="crispEdges"/>
<polygon points="624.61,388.87 635.19,377.98 626.82,355.31 616.79,365.64" fill="rgb(0,156,0)" shape-rendering="crispEdges"/>
<polygon points="635.19,377.98 642.64,366.44 633.88,344.38 626.82,355.31" fill="rgb(0,157,0)" shape-rendering="crispEdges"/>
<polygon points="642.64,366.44 646.80,354.50 637.82,333.06 633.88,344.38" fill="rgb(0,158,0)" shape-rendering="crispEdges"/>
<polygon points="646.80,354.50 647.60,342.38 638.58,321.56 637.82,333.06" fill="rgb(0,158,0)" shape-rendering="crispEdges"/>
<polygon points="647.60,342.38 645.01,330.31 636.13,310.12 638.58,321.56" fill="rgb(0,157,0)" shape-rendering="crispEdges"/>
<polygon points="302.79,330.05 300.31,342.11 309.34,321.31 311.70,309.88" fill="rgb(0,178,0)" shape-rendering="crispEdges"/>
<polygon points="300.31,342.11 301.20,354.24 310.19,332.81 309.34,321.31" fill="rgb(0,170,0)" shape-rendering="crispEdges"/>
<polygon points="301.20,354.24 305.46,366.19 314.22,344.14 310.19,332.81" fill="rgb(0,161,0)" shape-rendering="crispEdges"/>
<polygon points="305.46,366.19 313.00,377.73 321.37,355.08 314.22,344.14" fill="rgb(0,151,0)" shape-rendering="crispEdges"/>
<polygon points="313.00,377.73 323.67,388.64 331.48,365.43 321.37,355.08" fill="rgb(0,140,0)" shape-rendering="crispEdges"/>
<polygon points="331.48,365.43 344.37,374.97 354.12,351.52 342.20,342.70" fill="rgb(0,148,0)" shape-rendering="crispEdges"/>
<polygon points="344.37,374.97 359.78,383.53 368.37,359.44 354.12,351.52" fill="rgb(0,148,0)" shape-rendering="crispEdges"/>
<polygon points="359.78,383.53 377.41,390.94 384.68,366.29 368.37,359.44" fill="rgb(0,148,0)" shape-rendering="crispEdges"/>
<polygon points="377.41,390.94 396.93,397.04 402.73,371.94 384.68,366.29" fill="rgb(0,147,0)" shape-rendering="crispEdges"/>
<polygon points="396.93,397.04 417.94,401.74 422.16,376.28 402.73,371.94" fill="rgb(0,148,0)" shape-rendering="crispEdges"/>
<polygon points="417.94,401.74 440.04,404.93 442.60,379.23 422.16,376.28" fill="rgb(0,149,0)" shape-rendering="crispEdges"/>
<polygon points="440.04,404.93 462.81,406.54 463.65,380.72 442.60,379.23" fill="rgb(0,149,0)" shape-rendering="crispEdges"/>
<polygon points="462.81,406.54 485.79,406.56 484.90,380.74 463.65,380.72" fill="rgb(0,147,0)" shape-rendering="crispEdges"/>
<polygon points="485.79,406.56 508.54,404.98 505.95,379.28 484.90,380.74" fill="rgb(3,154,3)" shape-rendering="crispEdges"/>
<polygon points="508.54,404.98 530.62,401.82 526.36,376.36 505.95,379.28" fill="rgb(5,159,5)" shape-rendering="crispEdges"/>
<polygon points="530.62,401.82 551.59,397.16 545.76,372.05 526.36,376.36" fill="rgb(1,157,1)" shape-rendering="crispEdges"/>
<polygon points="551.59,397.16 571.05,391.08 563.76,366.43 545.76,372.05" fill="rgb(0,158,0)" shape-rendering="crispEdges"/>
<polygon points="571.05,391.08 588.63,383.70 580.02,359.60 563.76,366.43" fill="rgb(0,161,0)" shape-rendering="crispEdges"/>
<polygon points="588.63,383.70 603.97,375.17 594.21,351.71 580.02,359.60" fill="rgb(0,165,0)" shape-rendering="crispEdges"/>
<polygon points="603.97,375.17 616.79,365.64 606.06,342.90 594.21,351.71" fill="rgb(0,167,0)" shape-rendering="crispEdges"/>
<polygon points="616.79,365.64 626.82,355.31 615.34,333.34 606.06,342.90" fill="rgb(0,169,0)" shape-rendering="crispEdges"/>
<polygon points="626.82,355.31 633.88,344.38 621.86,323.23 615.34,333.34" fill="rgb(0,171,0)" shape-rendering="crispEdges"/>
<polygon points="633.88,344.38 637.82,333.06 625.51,312.76 621.86,323.23" fill="rgb(0,171,0)" shape-rendering="crispEdges"/>
<polygon points="637.82,333.06 638.58,321.56 626.21,302.13 625.51,312.76" fill="rgb(0,171,0)" shape-rendering="crispEdges"/>
<polygon points="638.58,321.56 636.13,310.12 623.95,291.55 626.21,302.13" fill="rgb(0,170,0)" shape-rendering="crispEdges"/>
<polygon points="636.13,310.12 630.53,298.96 618.77,281.23 623.95,291.55" fill="rgb(0,169,0)" shape-rendering="crispEdges"/>
<polygon points="317.21,298.72 311.70,309.88 323.90,291.32 329.00,281.01" fill="rgb(0,191,0)" shape-rendering="crispEdges"/>
<polygon points="311.70,309.88 309.34,321.31 321.72,301.90 323.90,291.32" fill="rgb(0,185,0)" shape-rendering="crispEdges"/>
<polygon points="309.34,321.31 310.19,332.81 322.51,312.53 321.72,301.90" fill="rgb(0,178,0)" shape-rendering="crispEdges"/>
<polygon points="310.19,332.81 314.22,344.14 326.24,323.01 322.51,312.53" fill="rgb(0,170,0)" shape-rendering="crispEdges"/>
<polygon points="314.22,344.14 321.37,355.08 332.85,333.13 326.24,323.01" fill="rgb(0,160,0)" shape-rendering="crispEdges"/>
<polygon points="321.37,355.08 331.48,365.43 342.20,342.70 332.85,333.13" fill="rgb(0,150,0)" shape-rendering="crispEdges"/>
<polygon points="342.20,342.70 354.12,351.52 366.31,328.85 355.60,320.92" fill="rgb(0,155,0)" shape-rendering="crispEdges"/>
<polygon points="354.12,351.52 368.37,359.44 379.11,335.96 366.31,328.85" fill="rgb(0,156,0)" shape-rendering="crispEdges"/>
<polygon points="368.37,359.44 384.68,366.29 393.76,342.11 379.11,335.96" fill="rgb(0,155,0)" shape-rendering="crispEdges"/>
<polygon points="384.68,366.29 402.73,371.94 409.97,347.19 393.76,342.11" fill="rgb(0,155,0)" shape-rendering="crispEdges"/>
<polygon points="402.73,371.94 422.16,376.28 427.43,351.09 409.97,347.19" fill="rgb(0,153,0)" shape-rendering="crispEdges"/>
<polygon points="422.16,376.28 442.60,379.23 445.79,353.74 427.43,351.09" fill="rgb(0,151,0)" shape-rendering="crispEdges"/>
<polygon points="442.60,379.23 463.65,380.72 464.71,355.08 445.79,353.74" fill="rgb(0,149,0)" shape-rendering="crispEdges"/>
<polygon points="463.65,380.72 484.90,380.74 483.80,355.10 464.71,355.08" fill="rgb(0,153,0)" shape-rendering="crispEdges"/>
<polygon points="484.90,380.74 505.95,379.28 502.70,353.78 483.80,355.10" fill="rgb(0,157,0)" shape-rendering="crispEdges"/>
<polygon points="505.95,379.28 526.36,376.36 521.04,351.16 502.70,353.78" fill="rgb(0,162,0)" shape-rendering="crispEdges"/>
<polygon points="526.36,376.36 545.76,372.05 538.47,347.29 521.04,351.16" fill="rgb(0,166,0)" shape-rendering="crispEdges"/>
<polygon points="545.76,372.05 563.76,366.43 554.64,342.24 538.47,347.29" fill="rgb(0,170,0)" shape-rendering="crispEdges"/>
<polygon points="563.76,366.43 580.02,359.60 569.24,336.11 554.64,342.24" fill="rgb(0,174,0)" shape-rendering="crispEdges"/>
<polygon points="580.02,359.60 594.21,351.71 581.99,329.01 569.24,336.11" fill="rgb(0,177,0)" shape-rendering="crispEdges"/>
<polygon points="594.21,351.71 606.06,342.90 592.64,321.10 581.99,329.01" fill="rgb(0,179,0)" shape-rendering="crispEdges"/>
<polygon points="606.06,342.90 615.34,333.34 600.97,312.52 592.64,321.10" fill="rgb(0,181,0)" shape-rendering="crispEdges"/>
<polygon points="615.34,333.34 621.86,323.23 606.84,303.44 600.97,312.52" fill="rgb(0,182,0)" shape-rendering="crispEdges"/>
<polygon points="621.86,323.23 625.51,312.76 610.12,294.03 606.84,303.44" fill="rgb(0,183,0)" shape-rendering="crispEdges"/>
<polygon points="625.51,312.76 626.21,302.13 610.74,284.48 610.12,294.03" fill="rgb(0,183,0)" shape-rendering="crispEdges"/>
<polygon points="626.21,302.13 623.95,291.55 608.71,274.97 610.74,284.48" fill="rgb(0,182,0)" shape-rendering="crispEdges"/>
<polygon points="623.95,291.55 618.77,281.23 604.06,265.70 608.71,274.97" fill="rgb(0,180,0)" shape-rendering="crispEdges"/>
<polygon points="618.77,281.23 610.76,271.36 596.87,256.83 604.06,265.70" fill="rgb(0,178,0)" shape-rendering="crispEdges"/>
<polygon points="336.92,271.15 329.00,281.01 343.74,265.50 350.86,256.65" fill="rgb(0,200,0)" shape-rendering="crispEdges"/>
<polygon points="329.00,281.01 323.90,291.32 339.16,274.77 343.74,265.50" fill="rgb(0,196,0)" shape-rendering="crispEdges"/>
<polygon points="323.90,291.32 321.72,301.90 337.20,284.27 339.16,274.77" fill="rgb(0,190,0)" shape-rendering="crispEdges"/>
<polygon points="321.72,301.90 322.51,312.53 337.91,293.82 337.20,284.27" fill="rgb(0,184,0)" shape-rendering="crispEdges"/>
<polygon points="322.51,312.53 326.24,323.01 341.26,303.23 337.91,293.82" fill="rgb(0,176,0)" shape-rendering="crispEdges"/>
<polygon points="326.24,323.01 332.85,333.13 347.20,312.33 341.26,303.23" fill="rgb(0,168,0)" shape-rendering="crispEdges"/>
<polygon points="332.85,333.13 342.20,342.70 355.60,320.92 347.20,312.33" fill="rgb(0,158,0)" shape-rendering="crispEdges"/>
<polygon points="355.60,320.92 366.31,328.85 380.69,307.41 371.41,300.54" fill="rgb(0,161,0)" shape-rendering="crispEdges"/>
<polygon points="366.31,328.85 379.11,335.96 391.78,313.57 380.69,307.41" fill="rgb(0,161,0)" shape-rendering="crispEdges"/>
<polygon points="379.11,335.96 393.76,342.11 404.48,318.90 391.78,313.57" fill="rgb(0,161,0)" shape-rendering="crispEdges"/>
<polygon points="393.76,342.11 409.97,347.19 418.52,323.30 404.48,318.90" fill="rgb(0,161,0)" shape-rendering="crispEdges"/>
<polygon points="409.97,347.19 427.43,351.09 433.65,326.68 418.52,323.30" fill="rgb(0,159,0)" shape-rendering="crispEdges"/>
<polygon points="427.43,351.09 445.79,353.74 449.56,328.98 433.65,326.68" fill="rgb(0,158,0)" shape-rendering="crispEdges"/>
<polygon points="445.79,353.74 464.71,355.08 465.95,330.14 449.56,328.98" fill="rgb(0,161,0)" shape-rendering="crispEdges"/>
<polygon points="464.71,355.08 483.80,355.10 482.49,330.15 465.95,330.14" fill="rgb(0,165,0)" shape-rendering="crispEdges"/>
<polygon points="483.80,355.10 502.70,353.78 498.87,329.01 482.49,330.15" fill="rgb(0,170,0)" shape-rendering="crispEdges"/>
<polygon points="502.70,353.78 521.04,351.16 514.77,326.74 498.87,329.01" fill="rgb(0,174,0)" shape-rendering="crispEdges"/>
<polygon points="521.04,351.16 538.47,347.29 529.87,323.39 514.77,326.74" fill="rgb(0,177,0)" shape-rendering="crispEdges"/>
<polygon points="538.47,347.29 554.64,342.24 543.88,319.01 529.87,323.39" fill="rgb(0,181,0)" shape-rendering="crispEdges"/>
<polygon points="554.64,342.24 569.24,336.11 556.53,313.70 543.88,319.01" fill="rgb(0,184,0)" shape-rendering="crispEdges"/>
<polygon points="569.24,336.11 581.99,329.01 567.58,307.55 556.53,313.70" fill="rgb(0,187,0)" shape-rendering="crispEdges"/>
<polygon points="581.99,329.01 592.64,321.10 576.80,300.70 567.58,307.55" fill="rgb(0,189,0)" shape-rendering="crispEdges"/>
<polygon points="592.64,321.10 600.97,312.52 584.03,293.26 576.80,300.70" fill="rgb(0,190,0)" shape-rendering="crispEdges"/>
<polygon points="600.97,312.52 606.84,303.44 589.11,285.39 584.03,293.26" fill="rgb(0,192,0)" shape-rendering="crispEdges"/>
<polygon points="606.84,303.44 610.12,294.03 591.95,277.24 589.11,285.39" fill="rgb(0,192,0)" shape-rendering="crispEdges"/>
<polygon points="610.12,294.03 610.74,284.48 592.49,268.96 591.95,277.24" fill="rgb(0,192,0)" shape-rendering="crispEdges"/>
<polygon points="610.74,284.48 608.71,274.97 590.73,260.73 592.49,268.96" fill="rgb(0,191,0)" shape-rendering="crispEdges"/>
<polygon points="608.71,274.97 604.06,265.70 586.70,252.69 590.73,260.73" fill="rgb(0,190,0)" shape-rendering="crispEdges"/>
<polygon points="604.06,265.70 596.87,256.83 580.47,245.01 586.70,252.69" fill="rgb(0,188,0)" shape-rendering="crispEdges"/>
<polygon points="596.87,256.83 587.29,248.55 572.17,237.83 580.47,245.01" fill="rgb(0,195,0)" shape-rendering="crispEdges"/>
<polygon points="360.37,248.38 350.86,256.65 367.30,244.85 375.54,237.68" fill="rgb(0,204,0)" shape-rendering="crispEdges"/>
<polygon points="350.86,256.65 343.74,265.50 361.13,252.52 367.30,244.85" fill="rgb(0,202,0)" shape-rendering="crispEdges"/>
<polygon points="343.74,265.50 339.16,274.77 357.16,260.55 361.13,252.52" fill="rgb(0,198,0)" shape-rendering="crispEdges"/>
<polygon points="339.16,274.77 337.20,284.27 355.47,268.78 357.16,260.55" fill="rgb(0,193,0)" shape-rendering="crispEdges"/>
<polygon points="337.20,284.27 337.91,293.82 356.08,277.06 355.47,268.78" fill="rgb(0,188,0)" shape-rendering="crispEdges"/>
<polygon points="337.91,293.82 341.26,303.23 358.98,285.21 356.08,277.06" fill="rgb(0,181,0)" shape-rendering="crispEdges"/>
<polygon points="341.26,303.23 347.20,312.33 364.13,293.09 358.98,285.21" fill="rgb(0,173,0)" shape-rendering="crispEdges"/>
<polygon points="347.20,312.33 355.60,320.92 371.41,300.54 364.13,293.09" fill="rgb(0,165,0)" shape-rendering="crispEdges"/>
<polygon points="371.41,300.54 380.69,307.41 396.96,287.64 389.30,281.97" fill="rgb(0,165,0)" shape-rendering="crispEdges"/>
<polygon points="380.69,307.41 391.78,313.57 406.12,292.73 396.96,287.64" fill="rgb(0,166,0)" shape-rendering="crispEdges"/>
<polygon points="391.78,313.57 404.48,318.90 416.60,297.13 406.12,292.73" fill="rgb(0,165,0)" shape-rendering="crispEdges"/>
<polygon points="404.48,318.90 418.52,323.30 428.20,300.76 416.60,297.13" fill="rgb(0,165,0)" shape-rendering="crispEdges"/>
<polygon points="418.52,323.30 433.65,326.68 440.69,303.55 428.20,300.76" fill="rgb(0,166,0)" shape-rendering="crispEdges"/>
<polygon points="433.65,326.68 449.56,328.98 453.83,305.45 440.69,303.55" fill="rgb(0,169,0)" shape-rendering="crispEdges"/>
<polygon points="449.56,328.98 465.95,330.14 467.36,306.41 453.83,305.45" fill="rgb(1,173,1)" shape-rendering="crispEdges"/>
<polygon points="465.95,330.14 482.49,330.15 481.01,306.42 467.36,306.41" fill="rgb(1,177,1)" shape-rendering="crispEdges"/>
<polygon points="482.49,330.15 498.87,329.01 494.54,305.48 481.01,306.42" fill="rgb(1,180,1)" shape-rendering="crispEdges"/>
<polygon points="498.87,329.01 514.77,326.74 507.66,303.60 494.54,305.48" fill="rgb(0,184,0)" shape-rendering="crispEdges"/>
<polygon points="514.77,326.74 529.87,323.39 520.13,300.83 507.66,303.60" fill="rgb(0,187,0)" shape-rendering="crispEdges"/>
<polygon points="529.87,323.39 543.88,319.01 531.69,297.22 520.13,300.83" fill="rgb(0,190,0)" shape-rendering="crispEdges"/>
<polygon points="543.88,319.01 556.53,313.70 542.14,292.83 531.69,297.22" fill="rgb(0,192,0)" shape-rendering="crispEdges"/>
<polygon points="556.53,313.70 567.58,307.55 551.26,287.76 542.14,292.83" fill="rgb(0,194,0)" shape-rendering="crispEdges"/>
<polygon points="567.58,307.55 576.80,300.70 558.87,282.10 551.26,287.76" fill="rgb(0,196,0)" shape-rendering="crispEdges"/>
<polygon points="576.80,300.70 584.03,293.26 564.84,275.96 558.87,282.10" fill="rgb(0,198,0)" shape-rendering="crispEdges"/>
<polygon points="584.03,293.26 589.11,285.39 569.03,269.46 564.84,275.96" fill="rgb(0,198,0)" shape-rendering="crispEdges"/>
<polygon points="589.11,285.39 591.95,277.24 571.38,262.73 569.03,269.46" fill="rgb(0,199,0)" shape-rendering="crispEdges"/>
<polygon points="591.95,277.24 592.49,268.96 571.83,255.90 571.38,262.73" fill="rgb(0,199,0)" shape-rendering="crispEdges"/>
<polygon points="592.49,268.96 590.73,260.73 570.37,249.10 571.83,255.90" fill="rgb(0,198,0)" shape-rendering="crispEdges"/>
<polygon points="590.73,260.73 586.70,252.69 567.04,242.46 570.37,249.10" fill="rgb(0,197,0)" shape-rendering="crispEdges"/>
<polygon points="586.70,252.69 580.47,245.01 561.90,236.12 567.04,242.46" fill="rgb(0,196,0)" shape-rendering="crispEdges"/>
<polygon points="580.47,245.01 572.17,237.83 555.05,230.20 561.90,236.12" fill="rgb(0,202,0)" shape-rendering="crispEdges"/>
<polygon points="572.17,237.83 561.96,231.30 546.62,224.80 555.05,230.20" fill="rgb(0,208,0)" shape-rendering="crispEdges"/>
<polygon points="561.96,231.30 550.03,225.54 536.77,220.05 546.62,224.80" fill="rgb(0,213,0)" shape-rendering="crispEdges"/>
<polygon points="397.58,225.42 385.70,231.16 401.11,224.69 410.91,219.95" fill="rgb(0,213,0)" shape-rendering="crispEdges"/>
<polygon points="385.70,231.16 375.54,237.68 392.72,230.07 401.11,224.69" fill="rgb(0,208,0)" shape-rendering="crispEdges"/>
<polygon points="375.54,237.68 367.30,244.85 385.91,235.99 392.72,230.07" fill="rgb(0,203,0)" shape-rendering="crispEdges"/>
<polygon points="367.30,244.85 361.13,252.52 380.82,242.32 385.91,235.99" fill="rgb(0,201,0)" shape-rendering="crispEdges"/>
<polygon points="361.13,252.52 357.16,260.55 377.54,248.95 380.82,242.32" fill="rgb(0,198,0)" shape-rendering="crispEdges"/>
<polygon points="357.16,260.55 355.47,268.78 376.14,255.75 377.54,248.95" fill="rgb(0,194,0)" shape-rendering="crispEdges"/>
<polygon points="355.47,268.78 356.08,277.06 376.65,262.58 376.14,255.75" fill="rgb(0,189,0)" shape-rendering="crispEdges"/>
<polygon points="356.08,277.06 358.98,285.21 379.05,269.32 376.65,262.58" fill="rgb(0,183,0)" shape-rendering="crispEdges"/>
<polygon points="358.98,285.21 364.13,293.09 383.29,275.82 379.05,269.32" fill="rgb(0,177,0)" shape-rendering="crispEdges"/>
<polygon points="364.13,293.09 371.41,300.54 389.30,281.97 383.29,275.82" fill="rgb(0,170,0)" shape-rendering="crispEdges"/>
<polygon points="389.30,281.97 396.96,287.64 414.81,269.95 408.92,265.59" fill="rgb(0,168,0)" shape-rendering="crispEdges"/>
<polygon points="396.96,287.64 406.12,292.73 421.85,273.85 414.81,269.95" fill="rgb(1,170,1)" shape-rendering="crispEdges"/>
<polygon points="406.12,292.73 416.60,297.13 429.90,277.24 421.85,273.85" fill="rgb(3,174,3)" shape-rendering="crispEdges"/>
<polygon points="416.60,297.13 428.20,300.76 438.81,280.03 429.90,277.24" fill="rgb(7,181,7)" shape-rendering="crispEdges"/>
<polygon points="428.20,300.76 440.69,303.55 448.41,282.17 438.81,280.03" fill="rgb(13,190,13)" shape-rendering="crispEdges"/>
<polygon points="440.69,303.55 453.83,305.45 458.50,283.63 448.41,282.17" fill="rgb(21,201,21)" shape-rendering="crispEdges"/>
<polygon points="453.83,305.45 467.36,306.41 468.90,284.36 458.50,283.63" fill="rgb(29,211,29)" shape-rendering="crispEdges"/>
<polygon points="467.36,306.41 481.01,306.42 479.39,284.37 468.90,284.36" fill="rgb(31,217,31)" shape-rendering="crispEdges"/>
<polygon points="481.01,306.42 494.54,305.48 489.78,283.65 479.39,284.37" fill="rgb(29,217,29)" shape-rendering="crispEdges"/>
<polygon points="494.54,305.48 507.66,303.60 499.86,282.21 489.78,283.65" fill="rgb(21,212,21)" shape-rendering="crispEdges"/>
<polygon points="507.66,303.60 520.13,300.83 509.44,280.08 499.86,282.21" fill="rgb(13,207,13)" shape-rendering="crispEdges"/>
<polygon points="520.13,300.83 531.69,297.22 518.33,277.30 509.44,280.08" fill="rgb(7,203,7)" shape-rendering="crispEdges"/>
<polygon points="531.69,297.22 542.14,292.83 526.36,273.93 518.33,277.30" fill="rgb(3,201,3)" shape-rendering="crispEdges"/>
<polygon points="542.14,292.83 551.26,287.76 533.37,270.04 526.36,273.93" fill="rgb(1,201,1)" shape-rendering="crispEdges"/>
<polygon points="551.26,287.76 558.87,282.10 539.22,265.69 533.37,270.04" fill="rgb(0,201,0)" shape-rendering="crispEdges"/>
<polygon points="558.87,282.10 564.84,275.96 543.80,260.97 539.22,265.69" fill="rgb(0,202,0)" shape-rendering="crispEdges"/>
<polygon points="564.84,275.96 569.03,269.46 547.02,255.97 543.80,260.97" fill="rgb(0,203,0)" shape-rendering="crispEdges"/>
<polygon points="569.03,269.46 571.38,262.73 548.82,250.80 547.02,255.97" fill="rgb(0,203,0)" shape-rendering="crispEdges"/>
<polygon points="571.38,262.73 571.83,255.90 549.17,245.55 548.82,250.80" fill="rgb(0,203,0)" shape-rendering="crispEdges"/>
<polygon points="571.83,255.90 570.37,249.10 548.05,240.33 549.17,245.55" fill="rgb(0,203,0)" shape-rendering="crispEdges"/>
<polygon points="570.37,249.10 567.04,242.46 545.49,235.23 548.05,240.33" fill="rgb(0,202,0)" shape-rendering="crispEdges"/>
<polygon points="567.04,242.46 561.90,236.12 541.54,230.36 545.49,235.23" fill="rgb(0,203,0)" shape-rendering="crispEdges"/>
<polygon points="561.90,236.12 555.05,230.20 536.28,225.81 541.54,230.36" fill="rgb(0,207,0)" shape-rendering="crispEdges"/>
<polygon points="555.05,230.20 546.62,224.80 529.80,221.66 536.28,225.81" fill="rgb(0,212,0)" shape-rendering="crispEdges"/>
<polygon points="546.62,224.80 536.77,220.05 522.23,218.01 529.80,221.66" fill="rgb(0,216,0)" shape-rendering="crispEdges"/>
<polygon points="536.77,220.05 525.71,216.02 513.73,214.91 522.23,218.01" fill="rgb(0,219,0)" shape-rendering="crispEdges"/>
<polygon points="525.71,216.02 513.63,212.80 504.46,212.44 513.73,214.91" fill="rgb(0,222,0)" shape-rendering="crispEdges"/>
<polygon points="513.63,212.80 500.79,210.46 494.59,210.64 504.46,212.44" fill="rgb(0,224,0)" shape-rendering="crispEdges"/>
<polygon points="500.79,210.46 487.43,209.02 484.32,209.54 494.59,210.64" fill="rgb(0,226,0)" shape-rendering="crispEdges"/>
<polygon points="487.43,209.02 473.80,208.54 473.85,209.16 484.32,209.54" fill="rgb(0,227,0)" shape-rendering="crispEdges"/>
<polygon points="473.80,208.54 460.17,209.00 463.38,209.52 473.85,209.16" fill="rgb(0,227,0)" shape-rendering="crispEdges"/>
<polygon points="460.17,209.00 446.82,210.41 453.12,210.61 463.38,209.52" fill="rgb(0,226,0)" shape-rendering="crispEdges"/>
<polygon points="446.82,210.41 433.99,212.74 443.26,212.39 453.12,210.61" fill="rgb(0,224,0)" shape-rendering="crispEdges"/>
<polygon points="433.99,212.74 421.95,215.94 434.01,214.85 443.26,212.39" fill="rgb(0,222,0)" shape-rendering="crispEdges"/>
<polygon points="421.95,215.94 410.91,219.95 425.53,217.93 434.01,214.85" fill="rgb(0,219,0)" shape-rendering="crispEdges"/>
<polygon points="410.91,219.95 401.11,224.69 417.99,221.58 425.53,217.93" fill="rgb(0,216,0)" shape-rendering="crispEdges"/>
<polygon points="401.11,224.69 392.72,230.07 411.55,225.71 417.99,221.58" fill="rgb(0,212,0)" shape-rendering="crispEdges"/>
<polygon points="392.72,230.07 385.91,235.99 406.32,230.26 411.55,225.71" fill="rgb(0,207,0)" shape-rendering="crispEdges"/>
<polygon points="385.91,235.99 380.82,242.32 402.41,235.12 406.32,230.26" fill="rgb(0,202,0)" shape-rendering="crispEdges"/>
<polygon points="380.82,242.32 377.54,248.95 399.89,240.22 402.41,235.12" fill="rgb(0,197,0)" shape-rendering="crispEdges"/>
<polygon points="377.54,248.95 376.14,255.75 398.81,245.44 399.89,240.22" fill="rgb(0,192,0)" shape-rendering="crispEdges"/>
<polygon points="376.14,255.75 376.65,262.58 399.20,250.69 398.81,245.44" fill="rgb(0,188,0)" shape-rendering="crispEdges"/>
<polygon points="376.65,262.58 379.05,269.32 401.04,255.86 399.20,250.69" fill="rgb(0,183,0)" shape-rendering="crispEdges"/>
<polygon points="379.05,269.32 383.29,275.82 404.30,260.86 401.04,255.86" fill="rgb(0,178,0)" shape-rendering="crispEdges"/>
<polygon points="383.29,275.82 389.30,281.97 408.92,265.59 404.30,260.86" fill="rgb(0,173,0)" shape-rendering="crispEdges"/>
<polygon points="408.92,265.59 414.81,269.95 433.86,254.68 429.87,251.73" fill="rgb(12,192,12)" shape-rendering="crispEdges"/>
<polygon points="414.81,269.95 421.85,273.85 438.63,257.33 433.86,254.68" fill="rgb(27,206,27)" shape-rendering="crispEdges"/>
<polygon points="421.85,273.85 429.90,277.24 444.09,259.63 438.63,257.33" fill="rgb(53,235,53)" shape-rendering="crispEdges"/>
<polygon points="429.90,277.24 438.81,280.03 450.14,261.52 444.09,259.63" fill="rgb(95,255,95)" shape-rendering="crispEdges"/>
<polygon points="438.81,280.03 448.41,282.17 456.64,262.97 450.14,261.52" fill="rgb(150,255,150)" shape-rendering="crispEdges"/>
<polygon points="448.41,282.17 458.50,283.63 463.49,263.96 456.64,262.97" fill="rgb(210,255,210)" shape-rendering="crispEdges"/>
<polygon points="458.50,283.63 468.90,284.36 470.54,264.46 463.49,263.96" fill="rgb(255,255,255)" shape-rendering="crispEdges"/>
<polygon points="468.90,284.36 479.39,284.37 477.66,264.47 470.54,264.46" fill="rgb(255,255,255)" shape-rendering="crispEdges"/>
<polygon points="479.39,284.37 489.78,283.65 484.70,263.98 477.66,264.47" fill="rgb(255,255,255)" shape-rendering="crispEdges"/>
<polygon points="489.78,283.65 499.86,282.21 491.54,263.00 484.70,263.98" fill="rgb(210,255,210)" shape-rendering="crispEdges"/>
<polygon points="499.86,282.21 509.44,280.08 498.04,261.55 491.54,263.00" fill="rgb(150,255,150)" shape-rendering="crispEdges"/>
<polygon points="509.44,280.08 518.33,277.30 504.07,259.67 498.04,261.55" fill="rgb(95,255,95)" shape-rendering="crispEdges"/>
<polygon points="518.33,277.30 526.36,273.93 509.51,257.39 504.07,259.67" fill="rgb(53,254,53)" shape-rendering="crispEdges"/>
<polygon points="526.36,273.93 533.37,270.04 514.26,254.74 509.51,257.39" fill="rgb(27,229,27)" shape-rendering="crispEdges"/>
<polygon points="533.37,270.04 539.22,265.69 518.23,251.79 514.26,254.74" fill="rgb(12,215,12)" shape-rendering="crispEdges"/>
<polygon points="539.22,265.69 543.80,260.97 521.34,248.59 518.23,251.79" fill="rgb(5,209,5)" shape-rendering="crispEdges"/>
<polygon points="543.80,260.97 547.02,255.97 523.52,245.21 521.34,248.59" fill="rgb(2,207,2)" shape-rendering="crispEdges"/>
<polygon points="547.02,255.97 548.82,250.80 524.75,241.70 523.52,245.21" fill="rgb(1,206,1)" shape-rendering="crispEdges"/>
<polygon points="548.82,250.80 549.17,245.55 524.98,238.14 524.75,241.70" fill="rgb(0,205,0)" shape-rendering="crispEdges"/>
<polygon points="549.17,245.55 548.05,240.33 524.22,234.60 524.98,238.14" fill="rgb(0,205,0)" shape-rendering="crispEdges"/>
<polygon points="548.05,240.33 545.49,235.23 522.49,231.14 524.22,234.60" fill="rgb(0,204,0)" shape-rendering="crispEdges"/>
<polygon points="545.49,235.23 541.54,230.36 519.81,227.83 522.49,231.14" fill="rgb(0,206,0)" shape-rendering="crispEdges"/>
<polygon points="541.54,230.36 536.28,225.81 516.24,224.75 519.81,227.83" fill="rgb(0,210,0)" shape-rendering="crispEdges"/>
<polygon points="536.28,225.81 529.80,221.66 511.84,221.94 516.24,224.75" fill="rgb(0,213,0)" shape-rendering="crispEdges"/>
<polygon points="529.80,221.66 522.23,218.01 506.71,219.46 511.84,221.94" fill="rgb(0,216,0)" shape-rendering="crispEdges"/>
<polygon points="522.23,218.01 513.73,214.91 500.95,217.36 506.71,219.46" fill="rgb(0,219,0)" shape-rendering="crispEdges"/>
<polygon points="513.73,214.91 504.46,212.44 494.66,215.68 500.95,217.36" fill="rgb(0,221,0)" shape-rendering="crispEdges"/>
<polygon points="504.46,212.44 494.59,210.64 487.96,214.46 494.66,215.68" fill="rgb(0,222,0)" shape-rendering="crispEdges"/>
<polygon points="494.59,210.64 484.32,209.54 481.00,213.71 487.96,214.46" fill="rgb(0,223,0)" shape-rendering="crispEdges"/>
<polygon points="484.32,209.54 473.85,209.16 473.90,213.46 481.00,213.71" fill="rgb(0,224,0)" shape-rendering="crispEdges"/>
<polygon points="473.85,209.16 463.38,209.52 466.80,213.70 473.90,213.46" fill="rgb(0,224,0)" shape-rendering="crispEdges"/>
<polygon points="463.38,209.52 453.12,210.61 459.84,214.44 466.80,213.70" fill="rgb(0,223,0)" shape-rendering="crispEdges"/>
<polygon points="453.12,210.61 443.26,212.39 453.15,215.65 459.84,214.44" fill="rgb(0,222,0)" shape-rendering="crispEdges"/>
<polygon points="443.26,212.39 434.01,214.85 446.88,217.32 453.15,215.65" fill="rgb(0,220,0)" shape-rendering="crispEdges"/>
<polygon points="434.01,214.85 425.53,217.93 441.13,219.41 446.88,217.32" fill="rgb(0,218,0)" shape-rendering="crispEdges"/>
<polygon points="425.53,217.93 417.99,221.58 436.02,221.88 441.13,219.41" fill="rgb(0,216,0)" shape-rendering="crispEdges"/>
<polygon points="417.99,221.58 411.55,225.71 431.65,224.68 436.02,221.88" fill="rgb(0,213,0)" shape-rendering="crispEdges"/>
<polygon points="411.55,225.71 406.32,230.26 428.10,227.76 431.65,224.68" fill="rgb(0,210,0)" shape-rendering="crispEdges"/>
<polygon points="406.32,230.26 402.41,235.12 425.45,231.07 428.10,227.76" fill="rgb(0,206,0)" shape-rendering="crispEdges"/>
<polygon points="402.41,235.12 399.89,240.22 423.74,234.52 425.45,231.07" fill="rgb(0,202,0)" shape-rendering="crispEdges"/>
<polygon points="399.89,240.22 398.81,245.44 423.01,238.06 423.74,234.52" fill="rgb(0,199,0)" shape-rendering="crispEdges"/>
<polygon points="398.81,245.44 399.20,250.69 423.27,241.62 423.01,238.06" fill="rgb(0,195,0)" shape-rendering="crispEdges"/>
<polygon points="399.20,250.69 401.04,255.86 424.52,245.13 423.27,241.62" fill="rgb(1,191,1)" shape-rendering="crispEdges"/>
<polygon points="401.04,255.86 404.30,260.86 426.73,248.52 424.52,245.13" fill="rgb(2,189,2)" shape-rendering="crispEdges"/>
<polygon points="404.30,260.86 408.92,265.59 429.87,251.73 426.73,248.52" fill="rgb(5,188,5)" shape-rendering="crispEdges"/>
<polygon points="429.87,251.73 433.86,254.68 453.72,242.16 451.71,240.67" fill="rgb(68,255,68)" shape-rendering="crispEdges"/>
<polygon points="433.86,254.68 438.63,257.33 456.13,243.50 453.72,242.16" fill="rgb(108,255,108)" shape-rendering="crispEdges"/>
<polygon points="438.63,257.33 444.09,259.63 458.89,244.66 456.13,243.50" fill="rgb(164,255,164)" shape-rendering="crispEdges"/>
<polygon points="444.09,259.63 450.14,261.52 461.95,245.62 458.89,244.66" fill="rgb(232,255,232)" shape-rendering="crispEdges"/>
<polygon points="450.14,261.52 456.64,262.97 465.23,246.35 461.95,245.62" fill="rgb(255,255,255)" shape-rendering="crispEdges"/>
<polygon points="456.64,262.97 463.49,263.96 468.69,246.85 465.23,246.35" fill="rgb(255,255,255)" shape-rendering="crispEdges"/>
<polygon points="463.49,263.96 470.54,264.46 472.25,247.10 468.69,246.85" fill="rgb(255,255,255)" shape-rendering="crispEdges"/>
<polygon points="470.54,264.46 477.66,264.47 475.85,247.10 472.25,247.10" fill="rgb(255,255,255)" shape-rendering="crispEdges"/>
<polygon points="477.66,264.47 484.70,263.98 479.41,246.86 475.85,247.10" fill="rgb(255,255,255)" shape-rendering="crispEdges"/>
<polygon points="484.70,263.98 491.54,263.00 482.86,246.36 479.41,246.86" fill="rgb(255,255,255)" shape-rendering="crispEdges"/>
<polygon points="491.54,263.00 498.04,261.55 486.14,245.63 482.86,246.36" fill="rgb(255,255,255)" shape-rendering="crispEdges"/>
<polygon points="498.04,261.55 504.07,259.67 489.19,244.68 486.14,245.63" fill="rgb(232,255,232)" shape-rendering="crispEdges"/>
<polygon points="504.07,259.67 509.51,257.39 491.94,243.53 489.19,244.68" fill="rgb(164,255,164)" shape-rendering="crispEdges"/>
<polygon points="509.51,257.39 514.26,254.74 494.34,242.19 491.94,243.53" fill="rgb(108,255,108)" shape-rendering="crispEdges"/>
<polygon points="514.26,254.74 518.23,251.79 496.34,240.70 494.34,242.19" fill="rgb(68,255,68)" shape-rendering="crispEdges"/>
<polygon points="518.23,251.79 521.34,248.59 497.91,239.09 496.34,240.70" fill="rgb(40,244,40)" shape-rendering="crispEdges"/>
<polygon points="521.34,248.59 523.52,245.21 499.02,237.38 497.91,239.09" fill="rgb(23,227,23)" shape-rendering="crispEdges"/>
<polygon points="523.52,245.21 524.75,241.70 499.63,235.60 499.02,237.38" fill="rgb(13,216,13)" shape-rendering="crispEdges"/>
<polygon points="524.75,241.70 524.98,238.14 499.75,233.81 499.63,235.60" fill="rgb(7,211,7)" shape-rendering="crispEdges"/>
<polygon points="524.98,238.14 524.22,234.60 499.37,232.02 499.75,233.81" fill="rgb(4,207,4)" shape-rendering="crispEdges"/>
<polygon points="524.22,234.60 522.49,231.14 498.49,230.27 499.37,232.02" fill="rgb(2,207,2)" shape-rendering="crispEdges"/>
<polygon points="522.49,231.14 519.81,227.83 497.14,228.60 498.49,230.27" fill="rgb(1,208,1)" shape-rendering="crispEdges"/>
<polygon points="519.81,227.83 516.24,224.75 495.34,227.04 497.14,228.60" fill="rgb(1,210,1)" shape-rendering="crispEdges"/>
<polygon points="516.24,224.75 511.84,221.94 493.12,225.62 495.34,227.04" fill="rgb(0,212,0)" shape-rendering="crispEdges"/>
<polygon points="511.84,221.94 506.71,219.46 490.53,224.37 493.12,225.62" fill="rgb(0,213,0)" shape-rendering="crispEdges"/>
<polygon points="506.71,219.46 500.95,217.36 487.61,223.31 490.53,224.37" fill="rgb(0,215,0)" shape-rendering="crispEdges"/>
<polygon points="500.95,217.36 494.66,215.68 484.43,222.46 487.61,223.31" fill="rgb(0,216,0)" shape-rendering="crispEdges"/>
<polygon points="494.66,215.68 487.96,214.46 481.05,221.84 484.43,222.46" fill="rgb(0,217,0)" shape-rendering="crispEdges"/>
<polygon points="487.96,214.46 481.00,213.71 477.54,221.47 481.05,221.84" fill="rgb(0,218,0)" shape-rendering="crispEdges"/>
<polygon points="481.00,213.71 473.90,213.46 473.95,221.34 477.54,221.47" fill="rgb(0,218,0)" shape-rendering="crispEdges"/>
<polygon points="473.90,213.46 466.80,213.70 470.36,221.46 473.95,221.34" fill="rgb(0,218,0)" shape-rendering="crispEdges"/>
<polygon points="466.80,213.70 459.84,214.44 466.85,221.83 470.36,221.46" fill="rgb(0,218,0)" shape-rendering="crispEdges"/>
<polygon points="459.84,214.44 453.15,215.65 463.47,222.45 466.85,221.83" fill="rgb(0,217,0)" shape-rendering="crispEdges"/>
<polygon points="453.15,215.65 446.88,217.32 460.30,223.29 463.47,222.45" fill="rgb(0,216,0)" shape-rendering="crispEdges"/>
<polygon points="446.88,217.32 441.13,219.41 457.40,224.34 460.30,223.29" fill="rgb(0,215,0)" shape-rendering="crispEdges"/>
<polygon points="441.13,219.41 436.02,221.88 454.81,225.59 457.40,224.34" fill="rgb(0,213,0)" shape-rendering="crispEdges"/>
<polygon points="436.02,221.88 431.65,224.68 452.61,227.01 454.81,225.59" fill="rgb(0,212,0)" shape-rendering="crispEdges"/>
<polygon points="431.65,224.68 428.10,227.76 450.81,228.56 452.61,227.01" fill="rgb(1,210,1)" shape-rendering="crispEdges"/>
<polygon points="428.10,227.76 425.45,231.07 449.47,230.23 450.81,228.56" fill="rgb(1,208,1)" shape-rendering="crispEdges"/>
<polygon points="425.45,231.07 423.74,234.52 448.61,231.98 449.47,230.23" fill="rgb(2,207,2)" shape-rendering="crispEdges"/>
<polygon points="423.74,234.52 423.01,238.06 448.24,233.77 448.61,231.98" fill="rgb(4,206,4)" shape-rendering="crispEdges"/>
<polygon points="423.01,238.06 423.27,241.62 448.38,235.56 448.24,233.77" fill="rgb(7,207,7)" shape-rendering="crispEdges"/>
<polygon points="423.27,241.62 424.52,245.13 449.01,237.34 448.38,235.56" fill="rgb(13,210,13)" shape-rendering="crispEdges"/>
<polygon points="424.52,245.13 426.73,248.52 450.12,239.05 449.01,237.34" fill="rgb(23,218,23)" shape-rendering="crispEdges"/>
<polygon points="426.73,248.52 429.87,251.73 451.71,240.67 450.12,239.05" fill="rgb(40,233,40)" shape-rendering="crispEdges"/>
<polygon points="451.71,240.67 453.72,242.16 474.00,232.64 474.00,232.64" fill="rgb(71,255,71)" shape-rendering="crispEdges"/>
<polygon points="453.72,242.16 456.13,243.50 474.00,232.64 474.00,232.64" fill="rgb(83,255,83)" shape-rendering="crispEdges"/>
<polygon points="456.13,243.50 458.89,244.66 474.00,232.64 474.00,232.64" fill="rgb(95,255,95)" shape-rendering="crispEdges"/>
<polygon points="458.89,244.66 461.95,245.62 474.00,232.64 474.00,232.64" fill="rgb(107,255,107)" shape-rendering="crispEdges"/>
<polygon points="461.95,245.62 465.23,246.35 474.00,232.64 474.00,232.64" fill="rgb(118,255,118)" shape-rendering="crispEdges"/>
<polygon points="465.23,246.35 468.69,246.85 474.00,232.64 474.00,232.64" fill="rgb(126,255,126)" shape-rendering="crispEdges"/>
<polygon points="468.69,246.85 472.25,247.10 474.00,232.64 474.00,232.64" fill="rgb(132,255,132)" shape-rendering="crispEdges"/>
<polygon points="472.25,247.10 475.85,247.10 474.00,232.64 474.00,232.64" fill="rgb(133,255,133)" shape-rendering="crispEdges"/>
<polygon points="475.85,247.10 479.41,246.86 474.00,232.64 474.00,232.64" fill="rgb(132,255,132)" shape-rendering="crispEdges"/>
<polygon points="479.41,246.86 482.86,246.36 474.00,232.64 474.00,232.64" fill="rgb(126,255,126)" shape-rendering="crispEdges"/>
<polygon points="482.86,246.36 486.14,245.63 474.00,232.64 474.00,232.64" fill="rgb(118,255,118)" shape-rendering="crispEdges"/>
<polygon points="486.14,245.63 489.19,244.68 474.00,232.64 474.00,232.64" fill="rgb(107,255,107)" shape-rendering="crispEdges"/>
<polygon points="489.19,244.68 491.94,243.53 474.00,232.64 474.00,232.64" fill="rgb(95,255,95)" shape-rendering="crispEdges"/>
<polygon points="491.94,243.53 494.34,242.19 474.00,232.64 474.00,232.64" fill="rgb(83,255,83)" shape-rendering="crispEdges"/>
<polygon points="494.34,242.19 496.34,240.70 474.00,232.64 474.00,232.64" fill="rgb(71,255,71)" shape-rendering="crispEdges"/>
<polygon points="496.34,240.70 497.91,239.09 474.00,232.64 474.00,232.64" fill="rgb(59,255,59)" shape-rendering="crispEdges"/>
<polygon points="497.91,239.09 499.02,237.38 474.00,232.64 474.00,232.64" fill="rgb(49,251,49)" shape-rendering="crispEdges"/>
<polygon points="499.02,237.38 499.63,235.60 474.00,232.64 474.00,232.64" fill="rgb(40,243,40)" shape-rendering="crispEdges"/>
<polygon points="499.63,235.60 499.75,233.81 474.00,232.64 474.00,232.64" fill="rgb(33,236,33)" shape-rendering="crispEdges"/>
<polygon points="499.75,233.81 499.37,232.02 474.00,232.64 474.00,232.64" fill="rgb(27,231,27)" shape-rendering="crispEdges"/>
<polygon points="499.37,232.02 498.49,230.27 474.00,232.64 474.00,232.64" fill="rgb(22,227,22)" shape-rendering="crispEdges"/>
<polygon points="498.49,230.27 497.14,228.60 474.00,232.64 474.00,232.64" fill="rgb(18,224,18)" shape-rendering="crispEdges"/>
<polygon points="497.14,228.60 495.34,227.04 474.00,232.64 474.00,232.64" fill="rgb(15,221,15)" shape-rendering="crispEdges"/>
<polygon points="495.34,227.04 493.12,225.62 474.00,232.64 474.00,232.64" fill="rgb(13,220,13)" shape-rendering="crispEdges"/>
<polygon points="493.12,225.62 490.53,224.37 474.00,232.64 474.00,232.64" fill="rgb(11,219,11)" shape-rendering="crispEdges"/>
<polygon points="490.53,224.37 487.61,223.31 474.00,232.64 474.00,232.64" fill="rgb(10,218,10)" shape-rendering="crispEdges"/>
<polygon points="487.61,223.31 484.43,222.46 474.00,232.64 474.00,232.64" fill="rgb(9,217,9)" shape-rendering="crispEdges"/>
<polygon points="484.43,222.46 481.05,221.84 474.00,232.64 474.00,232.64" fill="rgb(8,217,8)" shape-rendering="crispEdges"/>
<polygon points="481.05,221.84 477.54,221.47 474.00,232.64 474.00,232.64" fill="rgb(7,217,7)" shape-rendering="crispEdges"/>
<polygon points="477.54,221.47 473.95,221.34 474.00,232.64 474.00,232.64" fill="rgb(7,216,7)" shape-rendering="crispEdges"/>
<polygon points="473.95,221.34 470.36,221.46 474.00,232.64 474.00,232.64" fill="rgb(7,216,7)" shape-rendering="crispEdges"/>
<polygon points="470.36,221.46 466.85,221.83 474.00,232.64 474.00,232.64" fill="rgb(7,216,7)" shape-rendering="crispEdges"/>
<polygon points="466.85,221.83 463.47,222.45 474.00,232.64 474.00,232.64" fill="rgb(8,217,8)" shape-rendering="crispEdges"/>
<polygon points="463.47,222.45 460.30,223.29 474.00,232.64 474.00,232.64" fill="rgb(9,217,9)" shape-rendering="crispEdges"/>
<polygon points="460.30,223.29 457.40,224.34 474.00,232.64 474.00,232.64" fill="rgb(10,218,10)" shape-rendering="crispEdges"/>
<polygon points="457.40,224.34 454.81,225.59 474.00,232.64 474.00,232.64" fill="rgb(11,218,11)" shape-rendering="crispEdges"/>
<polygon points="454.81,225.59 452.61,227.01 474.00,232.64 474.00,232.64" fill="rgb(13,220,13)" shape-rendering="crispEdges"/>
<polygon points="452.61,227.01 450.81,228.56 474.00,232.64 474.00,232.64" fill="rgb(15,221,15)" shape-rendering="crispEdges"/>
<polygon points="450.81,228.56 449.47,230.23 474.00,232.64 474.00,232.64" fill="rgb(18,224,18)" shape-rendering="crispEdges"/>
<polygon points="449.47,230.23 448.61,231.98 474.00,232.64 474.00,232.64" fill="rgb(22,227,22)" shape-rendering="crispEdges"/>
<polygon points="448.61,231.98 448.24,233.77 474.00,232.64 474.00,232.64" fill="rgb(27,231,27)" shape-rendering="crispEdges"/>
<polygon points="448.24,233.77 448.38,235.56 474.00,232.64 474.00,232.64" fill="rgb(33,236,33)" shape-rendering="crispEdges"/>
<polygon points="448.38,235.56 449.01,237.34 474.00,232.64 474.00,232.64" fill="rgb(40,243,40)" shape-rendering="crispEdges"/>
<polygon points="449.01,237.34 450.12,239.05 474.00,232.64 474.00,232.64" fill="rgb(49,251,49)" shape-rendering="crispEdges"/>
<polygon points="450.12,239.05 451.71,240.67 474.00,232.64 474.00,232.64" fill="rgb(59,255,59)" shape-rendering="crispEdges"/>
<polygon points="332.92,466.90 331.47,445.15 317.31,434.65" fill="none" stroke="#000" stroke-width="0.75" stroke-linejoin="round"/>
<polygon points="318.89,456.51 332.92,466.90 317.31,434.65" fill="none" stroke="#000" stroke-width="0.75" stroke-linejoin="round"/>
<polygon points="349.69,476.21 348.42,454.56 331.47,445.15" fill="none" stroke="#000" stroke-width="0.75" stroke-linejoin="round"/>
<polygon points="332.92,466.90 349.69,476.21 331.47,445.15" fill="none" stroke="#000" stroke-width="0.75" stroke-linejoin="round"/>
<polygon points="368.88,484.27 367.80,462.70 348.42,454.56" fill="none" stroke="#000" stroke-width="0.75" stroke-linejoin="round"/>
<polygon points="349.69,476.21 368.88,484.27 348.42,454.56" fill="none" stroke="#000" stroke-width="0.75" stroke-linejoin="round"/>
<polygon points="390.11,490.92 389.25,469.42 367.80,462.70" fill="none" stroke="#000" stroke-width="0.75" stroke-linejoin="round"/>
<polygon points="368.88,484.27 390.11,490.92 367.80,462.70" fill="none" stroke="#000" stroke-width="0.75" stroke-linejoin="round"/>
<polygon points="412.97,496.03 412.35,474.58 389.25,469.42" fill="none" stroke="#000" stroke-width="0.75" stroke-linejoin="round"/>
<polygon points="390.11,490.92 412.97,496.03 389.25,469.42" fill="none" stroke="#000" stroke-width="0.75" stroke-linejoin="round"/>
<polygon points="437.02,499.49 436.65,478.08 412.35,474.58" fill="none" stroke="#000" stroke-width="0.75" stroke-linejoin="round"/>
<polygon points="412.97,496.03 437.02,499.49 412.35,474.58" fill="none" stroke="#000" stroke-width="0.75" stroke-linejoin="round"/>
<polygon points="461.79,501.26 461.68,479.86 436.65,478.08" fill="none" stroke="#000" stroke-width="0.75" stroke-linejoin="round"/>
<polygon points="437.02,499.49 461.79,501.26 436.65,478.08" fill="none" stroke="#000" stroke-width="0.75" stroke-linejoin="round"/>
<polygon points="486.80,501.27 486.94,479.88 461.68,479.86" fill="none" stroke="#000" stroke-width="0.75" stroke-linejoin="round"/>
<polygon points="461.79,501.26 486.80,501.27 461.68,479.86" fill="none" stroke="#000" stroke-width="0.75" stroke-linejoin="round"/>
<polygon points="511.56,499.55 511.95,478.14 486.94,479.88" fill="none" stroke="#000" stroke-width="0.75" stroke-linejoin="round"/>
<polygon points="486.80,501.27 511.56,499.55 486.94,479.88" fill="none" stroke="#000" stroke-width="0.75" stroke-linejoin="round"/>
<polygon points="535.58,496.12 536.22,474.67 511.95,478.14" fill="none" stroke="#000" stroke-width="0.75" stroke-linejoin="round"/>
<polygon points="511.56,499.55 535.58,496.12 511.95,478.14" fill="none" stroke="#000" stroke-width="0.75" stroke-linejoin="round"/>
<polygon points="558.41,491.05 559.28,469.54 536.22,474.67" fill="none" stroke="#000" stroke-width="0.75" stroke-linejoin="round"/>
<polygon points="535.58,496.12 558.41,491.05 536.22,474.67" fill="none" stroke="#000" stroke-width="0.75" stroke-linejoin="round"/>
<polygon points="579.59,484.43 580.68,462.86 559.28,469.54" fill="none" stroke="#000" stroke-width="0.75" stroke-linejoin="round"/>
<polygon points="558.41,491.05 579.59,484.43 559.28,469.54" fill="none" stroke="#000" stroke-width="0.75" stroke-linejoin="round"/>
<polygon points="598.71,476.40 600.00,454.75 580.68,462.86" fill="none" stroke="#000" stroke-width="0.75" stroke-linejoin="round"/>
<polygon points="579.59,484.43 598.71,476.40 580.68,462.86" fill="none" stroke="#000" stroke-width="0.75" stroke-linejoin="round"/>
<polygon points="615.41,467.11 616.87,445.36 600.00,454.75" fill="none" stroke="#000" stroke-width="0.75" stroke-linejoin="round"/>
<polygon points="598.71,476.40 615.41,467.11 600.00,454.75" fill="none" stroke="#000" stroke-width="0.75" stroke-linejoin="round"/>
<polygon points="629.35,456.75 630.95,434.89 616.87,445.36" fill="none" stroke="#000" stroke-width="0.75" stroke-linejoin="round"/>
<polygon points="615.41,467.11 629.35,456.75 616.87,445.36" fill="none" stroke="#000" stroke-width="0.75" stroke-linejoin="round"/>
<polygon points="640.27,445.51 641.98,423.54 630.95,434.89" fill="none" stroke="#000" stroke-width="0.75" stroke-linejoin="round"/>
<polygon points="629.35,456.75 640.27,445.51 630.95,434.89" fill="none" stroke="#000" stroke-width="0.75" stroke-linejoin="round"/>
<polygon points="647.95,433.61 649.74,411.52 641.98,423.54" fill="none" stroke="#000" stroke-width="0.75" stroke-linejoin="round"/>
<polygon points="640.27,445.51 647.95,433.61 641.98,423.54" fill="none" stroke="#000" stroke-width="0.75" stroke-linejoin="round"/>
<polygon points="652.24,421.29 654.08,399.07 649.74,411.52" fill="none" stroke="#000" stroke-width="0.75" stroke-linejoin="round"/>
<polygon points="647.95,433.61 652.24,421.29 649.74,411.52" fill="none" stroke="#000" stroke-width="0.75" stroke-linejoin="round"/>
<polygon points="300.11,433.35 298.33,411.25 293.90,398.80" fill="none" stroke="#000" stroke-width="0.75" stroke-linejoin="round"/>
<polygon points="295.72,421.02 300.11,433.35 293.90,398.80" fill="none" stroke="#000" stroke-width="0.75" stroke-linejoin="round"/>
<polygon points="307.89,445.26 306.19,423.28 298.33,411.25" fill="none" stroke="#000" stroke-width="0.75" stroke-linejoin="round"/>
<polygon points="300.11,433.35 307.89,445.26 298.33,411.25" fill="none" stroke="#000" stroke-width="0.75" stroke-linejoin="round"/>
<polygon points="318.89,456.51 317.31,434.65 306.19,423.28" fill="none" stroke="#000" stroke-width="0.75" stroke-linejoin="round"/>
<polygon points="307.89,445.26 318.89,456.51 306.19,423.28" fill="none" stroke="#000" stroke-width="0.75" stroke-linejoin="round"/>
<polygon points="331.47,445.15 332.93,422.26 318.91,411.88" fill="none" stroke="#000" stroke-width="0.75" stroke-linejoin="round"/>
<polygon points="317.31,434.65 331.47,445.15 318.91,411.88" fill="none" stroke="#000" stroke-width="0.75" stroke-linejoin="round"/>
<polygon points="348.42,454.56 349.70,431.58 332.93,422.26" fill="none" stroke="#000" stroke-width="0.75" stroke-linejoin="round"/>
<polygon points="331.47,445.15 348.42,454.56 332.93,422.26" fill="none" stroke="#000" stroke-width="0.75" stroke-linejoin="round"/>
<polygon points="367.80,462.70 368.89,439.64 349.70,431.58" fill="none" stroke="#000" stroke-width="0.75" stroke-linejoin="round"/>
<polygon points="348.42,454.56 367.80,462.70 349.70,431.58" fill="none" stroke="#000" stroke-width="0.75" stroke-linejoin="round"/>
<polygon points="389.25,469.42 390.12,446.28 368.89,439.64" fill="none" stroke="#000" stroke-width="0.75" stroke-linejoin="round"/>
<polygon points="367.80,462.70 389.25,469.42 368.89,439.64" fill="none" stroke="#000" stroke-width="0.75" stroke-linejoin="round"/>
<polygon points="412.35,474.58 412.99,451.39 390.12,446.28" fill="none" stroke="#000" stroke-width="0.75" stroke-linejoin="round"/>
<polygon points="389.25,469.42 412.35,474.58 390.12,446.28" fill="none" stroke="#000" stroke-width="0.75" stroke-linejoin="round"/>
<polygon points="436.65,478.08 437.04,454.86 412.99,451.39" fill="none" stroke="#000" stroke-width="0.75" stroke-linejoin="round"/>
<polygon points="412.35,474.58 436.65,478.08 412.99,451.39" fill="none" stroke="#000" stroke-width="0.75" stroke-linejoin="round"/>
<polygon points="461.68,479.86 461.81,456.62 437.04,454.86" fill="none" stroke="#000" stroke-width="0.75" stroke-linejoin="round"/>
<polygon points="436.65,478.08 461.68,479.86 437.04,454.86" fill="none" stroke="#000" stroke-width="0.75" stroke-linejoin="round"/>
<polygon points="486.94,479.88 486.81,456.64 461.81,456.62" fill="none" stroke="#000" stroke-width="0.75" stroke-linejoin="round"/>
<polygon points="461.68,479.86 486.94,479.88 461.81,456.62" fill="none" stroke="#000" stroke-width="0.75" stroke-linejoin="round"/>
<polygon points="511.95,478.14 511.57,454.92 486.81,456.64" fill="none" stroke="#000" stroke-width="0.75" stroke-linejoin="round"/>
<polygon points="486.94,479.88 511.95,478.14 486.81,456.64" fill="none" stroke="#000" stroke-width="0.75" stroke-linejoin="round"/>
<polygon points="536.22,474.67 535.60,451.48 511.57,454.92" fill="none" stroke="#000" stroke-width="0.75" stroke-linejoin="round"/>
<polygon points="511.95,478.14 536.22,474.67 511.57,454.92" fill="none" stroke="#000" stroke-width="0.75" stroke-linejoin="round"/>
<polygon points="559.28,469.54 558.42,446.41 535.60,451.48" fill="none" stroke="#000" stroke-width="0.75" stroke-linejoin="round"/>
<polygon points="536.22,474.67 559.28,469.54 535.60,451.48" fill="none" stroke="#000" stroke-width="0.75" stroke-linejoin="round"/>
<polygon points="580.68,462.86 579.60,439.80 558.42,446.41" fill="none" stroke="#000" stroke-width="0.75" stroke-linejoin="round"/>
<polygon points="559.28,469.54 580.68,462.86 558.42,446.41" fill="none" stroke="#000" stroke-width="0.75" stroke-linejoin="round"/>
<polygon points="600.00,454.75 598.72,431.77 579.60,439.80" fill="none" stroke="#000" stroke-width="0.75" stroke-linejoin="round"/>
<polygon points="580.68,462.86 600.00,454.75 579.60,439.80" fill="none" stroke="#000" stroke-width="0.75" stroke-linejoin="round"/>
<polygon points="616.87,445.36 615.42,422.48 598.72,431.77" fill="none" stroke="#000" stroke-width="0.75" stroke-linejoin="round"/>
<polygon points="600.00,454.75 616.87,445.36 598.72,431.77" fill="none" stroke="#000" stroke-width="0.75" stroke-linejoin="round"/>
<polygon points="630.95,434.89 629.36,412.11 615.42,422.48" fill="none" stroke="#000" stroke-width="0.75" stroke-linejoin="round"/>
<polygon points="616.87,445.36 630.95,434.89 615.42,422.48" fill="none" stroke="#000" stroke-width="0.75" stroke-linejoin="round"/>
<polygon points="641.98,423.54 640.28,400.87 629.36,412.11" fill="none" stroke="#000" stroke-width="0.75" stroke-linejoin="round"/>
<polygon points="630.95,434.89 641.98,423.54 629.36,412.11" fill="none" stroke="#000" stroke-width="0.75" stroke-linejoin="round"/>
<polygon points="649.74,411.52 647.96,388.98 640.28,400.87" fill="none" stroke="#000" stroke-width="0.75" stroke-linejoin="round"/>
<polygon points="641.98,423.54 649.74,411.52 640.28,400.87" fill="none" stroke="#000" stroke-width="0.75" stroke-linejoin="round"/>
<polygon points="654.08,399.07 652.25,376.65 647.96,388.98" fill="none" stroke="#000" stroke-width="0.75" stroke-linejoin="round"/>
<polygon points="649.74,411.52 654.08,399.07 647.96,388.98" fill="none" stroke="#000" stroke-width="0.75" stroke-linejoin="round"/>
<polygon points="654.91,386.43 653.08,364.15 652.25,376.65" fill="none" stroke="#000" stroke-width="0.75" stroke-linejoin="round"/>
<polygon points="654.08,399.07 654.91,386.43 652.25,376.65" fill="none" stroke="#000" stroke-width="0.75" stroke-linejoin="round"/>
<polygon points="293.90,398.80 295.74,376.38 294.81,363.88" fill="none" stroke="#000" stroke-width="0.75" stroke-linejoin="round"/>
<polygon points="292.96,386.16 293.90,398.80 294.81,363.88" fill="none" stroke="#000" stroke-width="0.75" stroke-linejoin="round"/>
<polygon points="298.33,411.25 300.13,388.71 295.74,376.38" fill="none" stroke="#000" stroke-width="0.75" stroke-linejoin="round"/>
<polygon points="293.90,398.80 298.33,411.25 295.74,376.38" fill="none" stroke="#000" stroke-width="0.75" stroke-linejoin="round"/>
<polygon points="306.19,423.28 307.90,400.62 300.13,388.71" fill="none" stroke="#000" stroke-width="0.75" stroke-linejoin="round"/>
<polygon points="298.33,411.25 306.19,423.28 300.13,388.71" fill="none" stroke="#000" stroke-width="0.75" stroke-linejoin="round"/>
<polygon points="317.31,434.65 318.91,411.88 307.90,400.62" fill="none" stroke="#000" stroke-width="0.75" stroke-linejoin="round"/>
<polygon points="306.19,423.28 317.31,434.65 307.90,400.62" fill="none" stroke="#000" stroke-width="0.75" stroke-linejoin="round"/>
<rect x="661.5" y="46.5" width="246" height="94.5" fill="none" stroke="#262626" stroke-width="1"/>
<text x="88.00" y="491.54" font-size="21" text-anchor="end" font-weight="normal" fill="#262626" >-10</text>
<text x="88.00" y="413.13" font-size="21" text-anchor="end" font-weight="normal" fill="#262626" >-5</text>
<text x="88.00" y="334.72" font-size="21" text-anchor="end" font-weight="normal" fill="#262626" >0</text>
<text x="88.00" y="256.31" font-size="21" text-anchor="end" font-weight="normal" fill="#262626" >5</text>
<text x="88.00" y="177.90" font-size="21" text-anchor="end" font-weight="normal" fill="#262626" >10</text>
<text x="309.79" y="717.13" font-size="21" text-anchor="end" font-weight="normal" fill="#262626" >-10</text>
<text x="264.36" y="677.85" font-size="21" text-anchor="end" font-weight="normal" fill="#262626" >-5</text>
<text x="218.93" y="638.57" font-size="21" text-anchor="end" font-weight="normal" fill="#262626" >0</text>
<text x="173.51" y="599.30" font-size="21" text-anchor="end" font-weight="normal" fill="#262626" >5</text>
<text x="128.08" y="560.02" font-size="21" text-anchor="end" font-weight="normal" fill="#262626" >10</text>
<text x="389.21" y="765.00" font-size="21" text-anchor="start" font-weight="normal" fill="#262626" >-15</text>
<text x="467.54" y="742.41" font-size="21" text-anchor="start" font-weight="normal" fill="#262626" >-10</text>
<text x="545.86" y="719.81" font-size="21" text-anchor="start" font-weight="normal" fill="#262626" >-5</text>
<text x="624.18" y="697.21" font-size="21" text-anchor="start" font-weight="normal" fill="#262626" >0</text>
<text x="702.50" y="674.61" font-size="21" text-anchor="start" font-weight="normal" fill="#262626" >5</text>
<text x="780.82" y="652.02" font-size="21" text-anchor="start" font-weight="normal" fill="#262626" >10</text>
<text x="558.10" y="755.70" font-size="23" text-anchor="start" font-weight="normal" fill="#262626" >x-Axis</text>
<text x="176.90" y="730.90" font-size="23" text-anchor="start" font-weight="normal" fill="#262626" >y-Axis</text>
<text x="0" y="0" font-size="23" fill="#262626" transform="translate(41.5,371) rotate(-90)">z-Axis</text>
<text x="474.00" y="38.50" font-size="22" text-anchor="middle" font-weight="bold" fill="#000" >FILofrangez: 29-Aug-2020 08:29:59</text>
<text x="699.60" y="73.00" font-size="19" text-anchor="start" font-weight="normal" fill="#000" textLength="197.5" lengthAdjust="spacing">RED = Crossing plane</text>
<text x="690.00" y="97.90" font-size="19" text-anchor="start" font-weight="normal" fill="#000" textLength="203.5" lengthAdjust="spacing">GREEN = Above plane</text>
<text x="694.60" y="122.50" font-size="19" text-anchor="start" font-weight="normal" fill="#000" textLength="203" lengthAdjust="spacing">YELLOW=Below plane</text>
</svg>
</body></html>
